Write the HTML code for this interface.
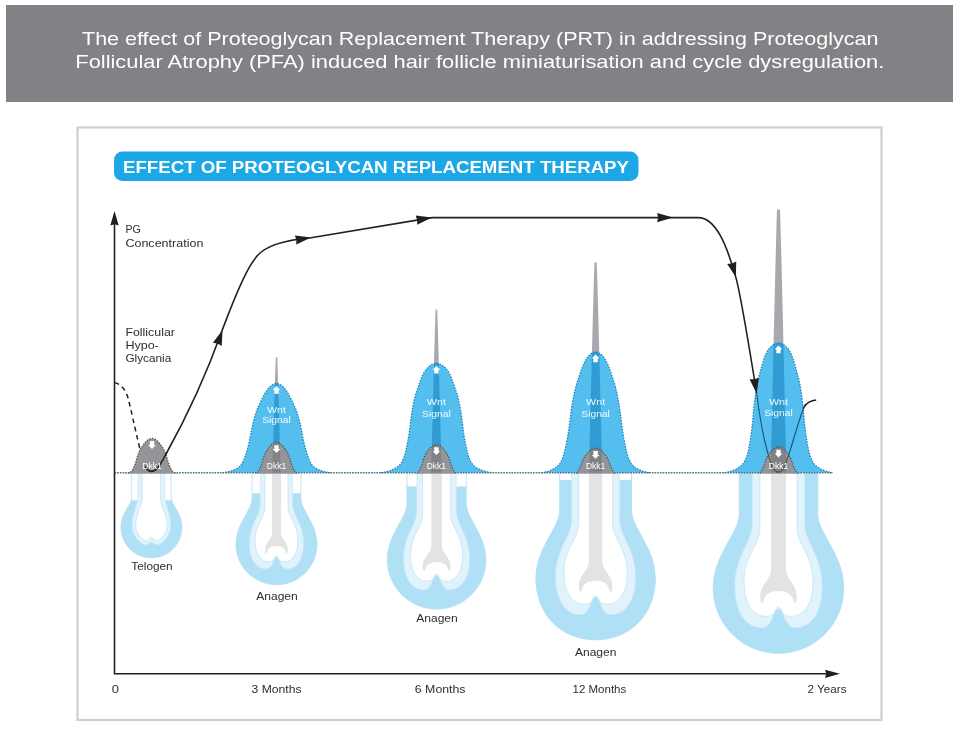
<!DOCTYPE html>
<html lang="en">
<head>
<meta charset="utf-8">
<title>Effect of Proteoglycan Replacement Therapy</title>
<style>
html,body{margin:0;padding:0;background:#fff;}
body{width:959px;height:739px;position:relative;overflow:hidden;font-family:"Liberation Sans",Arial,sans-serif;}
svg text{white-space:pre;}
</style>
</head>
<body>
<svg width="959" height="739" viewBox="0 0 959 739" style="position:absolute;left:0;top:0;display:block">
<rect x="0" y="0" width="959" height="739" fill="#fff"/>
<rect x="6" y="5" width="947" height="97" fill="#808285"/>
<g font-family="'Liberation Sans', Arial, sans-serif" font-size="18.1" fill="#fff">
<text x="82" y="44.7" textLength="796.5" lengthAdjust="spacingAndGlyphs">The effect of Proteoglycan Replacement Therapy (PRT) in addressing Proteoglycan</text>
<text x="75.3" y="67.6" textLength="809" lengthAdjust="spacingAndGlyphs">Follicular Atrophy (PFA) induced hair follicle miniaturisation and cycle dysregulation.</text>
</g>
<rect x="77.5" y="127.5" width="804" height="592.5" fill="#fff" stroke="#cdcdce" stroke-width="2.1"/>
<rect x="114" y="151.5" width="524.5" height="29.5" rx="8.5" ry="8.5" fill="#1ca7e6"/>
<text x="123" y="172.6" font-family="'Liberation Sans', Arial, sans-serif" font-weight="bold" font-size="16" fill="#fff" textLength="506" lengthAdjust="spacingAndGlyphs">EFFECT OF PROTEOGLYCAN REPLACEMENT THERAPY</text>
<g>
<clipPath id="cl1"><rect x="116" y="500.2" width="70.8" height="400"/></clipPath>
<path d="M131.7,472.6 L131.7,497.5 C131.7,504.98 121,512.45 121,527.4 C121,544.19 134.61,557.8 151.4,557.8 C168.19,557.8 181.8,544.19 181.8,527.4 C181.8,512.45 171.1,504.98 171.1,497.5 L171.1,472.6 Z" fill="#fff" stroke="#bfe3f5" stroke-width="1"/>
<path d="M131.7,472.6 L131.7,497.5 C131.7,504.98 121,512.45 121,527.4 C121,544.19 134.61,557.8 151.4,557.8 C168.19,557.8 181.8,544.19 181.8,527.4 C181.8,512.45 171.1,504.98 171.1,497.5 L171.1,472.6 Z" fill="#b0e0f6" clip-path="url(#cl1)"/>
<path d="M138,472.6 L138,497 C138,504 132.2,512 132.2,527 C132.2,534.5 139.9,544.8 145.8,544.8 C148.1,544.8 149.2,542.2 151.4,542.2 C153.6,542.2 154.7,544.8 157,544.8 C162.9,544.8 170.6,534.5 170.6,527 C170.6,512 164.8,504 164.8,497 L164.8,472.6 Z" fill="#e0f3fc" stroke="#cfeaf8" stroke-width="0.8"/>
<path d="M142.2,472.6 L142.2,499 C142.2,506 135.6,514 135.6,526 C135.6,531.5 141.4,540.8 145.8,540.8 C148,540.8 149.2,537.9 151.4,537.9 C153.6,537.9 154.8,540.8 157,540.8 C161.4,540.8 167.2,531.5 167.2,526 C167.2,514 160.6,506 160.6,499 L160.6,472.6 Z" fill="#fff" stroke="#c3e4f5" stroke-width="0.8"/>
<clipPath id="cl2"><rect x="230.99" y="493.3" width="91.01" height="400"/></clipPath>
<path d="M252.12,472.6 L252.12,498.65 C252.12,510.04 235.99,523.69 235.99,544.18 C235.99,566.55 254.13,584.69 276.5,584.69 C298.87,584.69 317.01,566.55 317.01,544.18 C317.01,523.69 300.88,510.04 300.88,498.65 L300.88,472.6 Z" fill="#fff" stroke="#bfe3f5" stroke-width="1"/>
<path d="M252.12,472.6 L252.12,498.65 C252.12,510.04 235.99,523.69 235.99,544.18 C235.99,566.55 254.13,584.69 276.5,584.69 C298.87,584.69 317.01,566.55 317.01,544.18 C317.01,523.69 300.88,510.04 300.88,498.65 L300.88,472.6 Z" fill="#b0e0f6" clip-path="url(#cl2)"/>
<path d="M260.37,472.6 L260.37,504.24 C260.37,515.96 249.45,523.77 249.45,543.31 C249.45,558.61 255.72,568.81 265.95,568.81 C269.97,568.81 270.73,566.48 272.65,562.98 C273.42,559.48 274.96,557.15 276.5,557.15 C278.04,557.15 279.58,559.48 280.35,562.98 C282.27,566.48 283.03,568.81 287.05,568.81 C297.28,568.81 303.55,558.61 303.55,543.31 C303.55,523.77 292.63,515.96 292.63,504.24 L292.63,472.6 Z" fill="#e0f3fc" stroke="#cfeaf8" stroke-width="0.8"/>
<path d="M264.96,472.6 L264.96,507.34 C264.96,517.29 255.1,523.93 255.1,540.52 C255.1,553.29 260.26,561.8 268.68,561.8 C272.03,561.8 273.15,560.68 274.27,559.01 C274.71,557.33 275.61,556.22 276.5,556.22 C277.39,556.22 278.29,557.33 278.73,559.01 C279.85,560.68 280.97,561.8 284.32,561.8 C292.74,561.8 297.9,553.29 297.9,540.52 C297.9,523.93 288.04,517.29 288.04,507.34 L288.04,472.6 Z" fill="#fff" stroke="#c3e4f5" stroke-width="0.8"/>
<path d="M272.1,472.6 L272.1,532.15 C272.1,539.31 265.15,542.04 265.15,549.21 C265.15,552.12 265.52,553.36 266.2,553.36 C266.89,553.36 267.26,552.26 267.51,551.15 C268.44,547.83 271.55,545.98 276.5,545.98 C281.45,545.98 284.56,547.83 285.49,551.15 C285.74,552.26 286.11,553.36 286.8,553.36 C287.48,553.36 287.85,552.12 287.85,549.21 C287.85,542.04 280.9,539.31 280.9,532.15 L280.9,472.6 Z" fill="#e3e3e4"/>
<clipPath id="cl3"><rect x="382.3" y="486.5" width="108.6" height="400"/></clipPath>
<path d="M406.93,472.6 L406.93,504.31 C406.93,518.16 387.3,534.79 387.3,559.73 C387.3,586.96 409.37,609.03 436.6,609.03 C463.83,609.03 485.9,586.96 485.9,559.73 C485.9,534.79 466.27,518.16 466.27,504.31 L466.27,472.6 Z" fill="#fff" stroke="#bfe3f5" stroke-width="1"/>
<path d="M406.93,472.6 L406.93,504.31 C406.93,518.16 387.3,534.79 387.3,559.73 C387.3,586.96 409.37,609.03 436.6,609.03 C463.83,609.03 485.9,586.96 485.9,559.73 C485.9,534.79 466.27,518.16 466.27,504.31 L466.27,472.6 Z" fill="#b0e0f6" clip-path="url(#cl3)"/>
<path d="M416.97,472.6 L416.97,511.11 C416.97,525.37 403.68,534.89 403.68,558.67 C403.68,577.29 411.31,589.7 423.77,589.7 C428.66,589.7 429.58,586.86 431.92,582.6 C432.86,578.35 434.73,575.51 436.6,575.51 C438.47,575.51 440.34,578.35 441.28,582.6 C443.62,586.86 444.54,589.7 449.44,589.7 C461.89,589.7 469.52,577.29 469.52,558.67 C469.52,534.89 456.23,525.37 456.23,511.11 L456.23,472.6 Z" fill="#e0f3fc" stroke="#cfeaf8" stroke-width="0.8"/>
<path d="M422.56,472.6 L422.56,514.88 C422.56,527 410.55,535.08 410.55,555.27 C410.55,570.81 416.84,581.17 427.09,581.17 C431.16,581.17 432.52,579.81 433.88,577.77 C434.43,575.73 435.51,574.37 436.6,574.37 C437.69,574.37 438.77,575.73 439.32,577.77 C440.68,579.81 442.04,581.17 446.11,581.17 C456.36,581.17 462.65,570.81 462.65,555.27 C462.65,535.08 450.64,527 450.64,514.88 L450.64,472.6 Z" fill="#fff" stroke="#c3e4f5" stroke-width="0.8"/>
<path d="M431.4,472.6 L431.4,545.08 C431.4,553.8 422.78,557.12 422.78,565.84 C422.78,569.38 423.24,570.9 424.07,570.9 C424.9,570.9 425.35,569.55 425.65,568.21 C426.79,564.16 430.58,561.92 436.6,561.92 C442.62,561.92 446.42,564.16 447.55,568.21 C447.85,569.55 448.3,570.9 449.13,570.9 C449.96,570.9 450.42,569.38 450.42,565.84 C450.42,557.12 441.8,553.8 441.8,545.08 L441.8,472.6 Z" fill="#e3e3e4"/>
<clipPath id="cl4"><rect x="530.85" y="480" width="129.5" height="400"/></clipPath>
<path d="M559.64,472.6 L559.64,511.03 C559.64,527.82 535.85,547.97 535.85,578.19 C535.85,614.22 560.65,639.77 595.6,639.77 C630.55,639.77 655.35,614.22 655.35,578.19 C655.35,547.97 631.56,527.82 631.56,511.03 L631.56,472.6 Z" fill="#fff" stroke="#bfe3f5" stroke-width="1"/>
<path d="M559.64,472.6 L559.64,511.03 C559.64,527.82 535.85,547.97 535.85,578.19 C535.85,614.22 560.65,639.77 595.6,639.77 C630.55,639.77 655.35,614.22 655.35,578.19 C655.35,547.97 631.56,527.82 631.56,511.03 L631.56,472.6 Z" fill="#b0e0f6" clip-path="url(#cl4)"/>
<path d="M571.81,472.6 L571.81,519.26 C571.81,536.56 555.71,548.09 555.71,576.91 C555.71,599.47 564.95,614.52 580.05,614.52 C585.97,614.52 587.09,611.08 589.93,605.92 C591.06,600.75 593.33,597.31 595.6,597.31 C597.87,597.31 600.14,600.75 601.27,605.92 C604.11,611.08 605.23,614.52 611.15,614.52 C626.25,614.52 635.49,599.47 635.49,576.91 C635.49,548.09 619.39,536.56 619.39,519.26 L619.39,472.6 Z" fill="#e0f3fc" stroke="#cfeaf8" stroke-width="0.8"/>
<path d="M578.58,472.6 L578.58,523.84 C578.58,538.53 564.03,548.32 564.03,572.79 C564.03,591.62 571.65,604.18 584.07,604.18 C589.01,604.18 590.66,602.53 592.31,600.06 C592.96,597.59 594.28,595.94 595.6,595.94 C596.92,595.94 598.24,597.59 598.89,600.06 C600.54,602.53 602.19,604.18 607.13,604.18 C619.55,604.18 627.17,591.62 627.17,572.79 C627.17,548.32 612.62,538.53 612.62,523.84 L612.62,472.6 Z" fill="#fff" stroke="#c3e4f5" stroke-width="0.8"/>
<path d="M588.95,472.6 L588.95,560.44 C588.95,571.01 578.86,575.03 578.86,585.6 C578.86,589.89 579.4,591.73 580.41,591.73 C581.42,591.73 581.97,590.1 582.33,588.47 C583.71,583.57 588.3,580.84 595.6,580.84 C602.9,580.84 607.5,583.57 608.87,588.47 C609.23,590.1 609.78,591.73 610.79,591.73 C611.8,591.73 612.34,589.89 612.34,585.6 C612.34,575.03 602.25,571.01 602.25,560.44 L602.25,472.6 Z" fill="#e3e3e4"/>
<clipPath id="cl5"><rect x="708.2" y="472" width="140.6" height="400"/></clipPath>
<path d="M739.2,472.6 L739.2,514.6 C739.2,532.95 713.2,554.97 713.2,588 C713.2,624.07 742.43,653.3 778.5,653.3 C814.57,653.3 843.8,624.07 843.8,588 C843.8,554.97 817.8,532.95 817.8,514.6 L817.8,472.6 Z" fill="#fff" stroke="#bfe3f5" stroke-width="1"/>
<path d="M739.2,472.6 L739.2,514.6 C739.2,532.95 713.2,554.97 713.2,588 C713.2,624.07 742.43,653.3 778.5,653.3 C814.57,653.3 843.8,624.07 843.8,588 C843.8,554.97 817.8,532.95 817.8,514.6 L817.8,472.6 Z" fill="#b0e0f6" clip-path="url(#cl5)"/>
<path d="M752.5,472.6 L752.5,523.6 C752.5,542.5 734.9,555.1 734.9,586.6 C734.9,611.26 745.01,627.7 761.5,627.7 C767.98,627.7 769.2,623.94 772.3,618.3 C773.54,612.66 776.02,608.9 778.5,608.9 C780.98,608.9 783.46,612.66 784.7,618.3 C787.8,623.94 789.02,627.7 795.5,627.7 C811.99,627.7 822.1,611.26 822.1,586.6 C822.1,555.1 804.5,542.5 804.5,523.6 L804.5,472.6 Z" fill="#e0f3fc" stroke="#cfeaf8" stroke-width="0.8"/>
<path d="M759.9,472.6 L759.9,528.6 C759.9,544.65 744,555.35 744,582.1 C744,602.68 752.32,616.4 765.9,616.4 C771.3,616.4 773.1,614.6 774.9,611.9 C775.62,609.2 777.06,607.4 778.5,607.4 C779.94,607.4 781.38,609.2 782.1,611.9 C783.9,614.6 785.7,616.4 791.1,616.4 C804.68,616.4 813,602.68 813,582.1 C813,555.35 797.1,544.65 797.1,528.6 L797.1,472.6 Z" fill="#fff" stroke="#c3e4f5" stroke-width="0.8"/>
<path d="M771.05,472.6 L771.05,568.6 C771.05,580.15 760.2,584.55 760.2,596.1 C760.2,600.79 760.8,602.8 761.9,602.8 C763,602.8 763.6,601.01 764,599.23 C765.5,593.88 770.52,590.9 778.5,590.9 C786.48,590.9 791.5,593.88 793,599.23 C793.4,601.01 794,602.8 795.1,602.8 C796.2,602.8 796.8,600.79 796.8,596.1 C796.8,584.55 785.95,580.15 785.95,568.6 L785.95,472.6 Z" fill="#e3e3e4"/>
</g>
<path d="M114.7,382.6 C121,384.3 126,389.5 128.6,400 C131,410 134.5,426 139.7,448.1 C141.5,455.5 143,461.5 145.2,466.5" fill="none" stroke="#231f20" stroke-width="1.5" stroke-dasharray="4.7 3.8"/>
<g>
<path d="M275.8,357 L275.61,361.82 L275.44,366.63 L275.28,371.45 L275.12,376.27 L274.97,381.08 L274.82,385.9 L274.68,390.72 L274.54,395.53 L274.39,400.35 L274.25,405.17 L274.12,409.98 L273.98,414.8 L273.84,419.62 L273.71,424.43 L273.57,429.25 L273.44,434.07 L273.31,438.88 L273.18,443.7 L273.04,448.52 L272.91,453.33 L272.79,458.15 L272.66,462.97 L272.53,467.78 L272.4,472.6 L280.6,472.6 L280.47,467.78 L280.34,462.97 L280.21,458.15 L280.09,453.33 L279.96,448.52 L279.82,443.7 L279.69,438.88 L279.56,434.07 L279.43,429.25 L279.29,424.43 L279.16,419.62 L279.02,414.8 L278.88,409.98 L278.75,405.17 L278.61,400.35 L278.46,395.53 L278.32,390.72 L278.18,385.9 L278.03,381.08 L277.88,376.27 L277.72,371.45 L277.56,366.63 L277.39,361.82 L277.2,357 Z" fill="#a7a9ac"/>
<clipPath id="bc0"><path d="M222.5,472.6 L223.18,472.54 L223.87,472.47 L224.55,472.38 L225.23,472.28 L225.92,472.17 L226.6,472.05 L227.28,471.93 L227.97,471.79 L228.65,471.64 L229.34,471.46 L230.02,471.27 L230.7,471.07 L231.39,470.84 L232.07,470.61 L232.75,470.37 L233.44,470.1 L234.12,469.81 L234.8,469.49 L235.49,469.15 L236.17,468.78 L236.85,468.38 L237.54,467.95 L238.22,467.48 L238.91,466.95 L239.59,466.37 L240.27,465.7 L240.96,464.93 L241.64,463.96 L242.32,462.83 L243.01,461.55 L243.69,460.15 L244.37,458.45 L245.06,456.52 L245.74,454.48 L246.42,452.28 L247.11,449.93 L247.79,447.44 L248.47,444.8 L249.16,441.98 L249.84,438.9 L250.53,435.39 L251.21,431.69 L251.89,428.13 L252.58,425 L253.26,422.19 L253.94,419.52 L254.63,417 L255.31,414.65 L255.99,412.5 L256.68,410.57 L257.36,408.84 L258.04,407.27 L258.73,405.79 L259.41,404.38 L260.09,402.98 L260.78,401.54 L261.46,400.09 L262.15,398.64 L262.83,397.23 L263.51,395.88 L264.2,394.63 L264.88,393.47 L265.56,392.36 L266.25,391.29 L266.93,390.29 L267.61,389.37 L268.3,388.53 L268.98,387.78 L269.66,387.05 L270.35,386.36 L271.03,385.74 L271.72,385.21 L272.4,384.79 L273.08,384.46 L273.77,384.15 L274.45,383.87 L275.13,383.65 L275.82,383.48 L276.5,383.4 L277.18,383.48 L277.87,383.65 L278.55,383.87 L279.23,384.15 L279.92,384.46 L280.6,384.79 L281.28,385.21 L281.97,385.74 L282.65,386.36 L283.34,387.05 L284.02,387.78 L284.7,388.53 L285.39,389.37 L286.07,390.29 L286.75,391.29 L287.44,392.36 L288.12,393.47 L288.8,394.63 L289.49,395.88 L290.17,397.23 L290.85,398.64 L291.54,400.09 L292.22,401.54 L292.91,402.98 L293.59,404.38 L294.27,405.79 L294.96,407.27 L295.64,408.84 L296.32,410.57 L297.01,412.5 L297.69,414.65 L298.37,417 L299.06,419.52 L299.74,422.19 L300.42,425 L301.11,428.13 L301.79,431.69 L302.47,435.39 L303.16,438.9 L303.84,441.98 L304.53,444.8 L305.21,447.44 L305.89,449.93 L306.58,452.28 L307.26,454.48 L307.94,456.52 L308.63,458.45 L309.31,460.15 L309.99,461.55 L310.68,462.83 L311.36,463.96 L312.04,464.93 L312.73,465.7 L313.41,466.37 L314.09,466.95 L314.78,467.48 L315.46,467.95 L316.15,468.38 L316.83,468.78 L317.51,469.15 L318.2,469.49 L318.88,469.81 L319.56,470.1 L320.25,470.37 L320.93,470.61 L321.61,470.84 L322.3,471.07 L322.98,471.27 L323.66,471.46 L324.35,471.64 L325.03,471.79 L325.72,471.93 L326.4,472.05 L327.08,472.17 L327.77,472.28 L328.45,472.38 L329.13,472.47 L329.82,472.54 L330.5,472.6 Z"/></clipPath>
<path d="M222.5,472.6 L223.18,472.54 L223.87,472.47 L224.55,472.38 L225.23,472.28 L225.92,472.17 L226.6,472.05 L227.28,471.93 L227.97,471.79 L228.65,471.64 L229.34,471.46 L230.02,471.27 L230.7,471.07 L231.39,470.84 L232.07,470.61 L232.75,470.37 L233.44,470.1 L234.12,469.81 L234.8,469.49 L235.49,469.15 L236.17,468.78 L236.85,468.38 L237.54,467.95 L238.22,467.48 L238.91,466.95 L239.59,466.37 L240.27,465.7 L240.96,464.93 L241.64,463.96 L242.32,462.83 L243.01,461.55 L243.69,460.15 L244.37,458.45 L245.06,456.52 L245.74,454.48 L246.42,452.28 L247.11,449.93 L247.79,447.44 L248.47,444.8 L249.16,441.98 L249.84,438.9 L250.53,435.39 L251.21,431.69 L251.89,428.13 L252.58,425 L253.26,422.19 L253.94,419.52 L254.63,417 L255.31,414.65 L255.99,412.5 L256.68,410.57 L257.36,408.84 L258.04,407.27 L258.73,405.79 L259.41,404.38 L260.09,402.98 L260.78,401.54 L261.46,400.09 L262.15,398.64 L262.83,397.23 L263.51,395.88 L264.2,394.63 L264.88,393.47 L265.56,392.36 L266.25,391.29 L266.93,390.29 L267.61,389.37 L268.3,388.53 L268.98,387.78 L269.66,387.05 L270.35,386.36 L271.03,385.74 L271.72,385.21 L272.4,384.79 L273.08,384.46 L273.77,384.15 L274.45,383.87 L275.13,383.65 L275.82,383.48 L276.5,383.4 L277.18,383.48 L277.87,383.65 L278.55,383.87 L279.23,384.15 L279.92,384.46 L280.6,384.79 L281.28,385.21 L281.97,385.74 L282.65,386.36 L283.34,387.05 L284.02,387.78 L284.7,388.53 L285.39,389.37 L286.07,390.29 L286.75,391.29 L287.44,392.36 L288.12,393.47 L288.8,394.63 L289.49,395.88 L290.17,397.23 L290.85,398.64 L291.54,400.09 L292.22,401.54 L292.91,402.98 L293.59,404.38 L294.27,405.79 L294.96,407.27 L295.64,408.84 L296.32,410.57 L297.01,412.5 L297.69,414.65 L298.37,417 L299.06,419.52 L299.74,422.19 L300.42,425 L301.11,428.13 L301.79,431.69 L302.47,435.39 L303.16,438.9 L303.84,441.98 L304.53,444.8 L305.21,447.44 L305.89,449.93 L306.58,452.28 L307.26,454.48 L307.94,456.52 L308.63,458.45 L309.31,460.15 L309.99,461.55 L310.68,462.83 L311.36,463.96 L312.04,464.93 L312.73,465.7 L313.41,466.37 L314.09,466.95 L314.78,467.48 L315.46,467.95 L316.15,468.38 L316.83,468.78 L317.51,469.15 L318.2,469.49 L318.88,469.81 L319.56,470.1 L320.25,470.37 L320.93,470.61 L321.61,470.84 L322.3,471.07 L322.98,471.27 L323.66,471.46 L324.35,471.64 L325.03,471.79 L325.72,471.93 L326.4,472.05 L327.08,472.17 L327.77,472.28 L328.45,472.38 L329.13,472.47 L329.82,472.54 L330.5,472.6 Z" fill="#54bfee"/>
<g clip-path="url(#bc0)"><path d="M275.8,357 L275.61,361.82 L275.44,366.63 L275.28,371.45 L275.12,376.27 L274.97,381.08 L274.82,385.9 L274.68,390.72 L274.54,395.53 L274.39,400.35 L274.25,405.17 L274.12,409.98 L273.98,414.8 L273.84,419.62 L273.71,424.43 L273.57,429.25 L273.44,434.07 L273.31,438.88 L273.18,443.7 L273.04,448.52 L272.91,453.33 L272.79,458.15 L272.66,462.97 L272.53,467.78 L272.4,472.6 L280.6,472.6 L280.47,467.78 L280.34,462.97 L280.21,458.15 L280.09,453.33 L279.96,448.52 L279.82,443.7 L279.69,438.88 L279.56,434.07 L279.43,429.25 L279.29,424.43 L279.16,419.62 L279.02,414.8 L278.88,409.98 L278.75,405.17 L278.61,400.35 L278.46,395.53 L278.32,390.72 L278.18,385.9 L278.03,381.08 L277.88,376.27 L277.72,371.45 L277.56,366.63 L277.39,361.82 L277.2,357 Z" fill="#319bd3"/></g>
<path d="M222.5,472.6 L223.18,472.54 L223.87,472.47 L224.55,472.38 L225.23,472.28 L225.92,472.17 L226.6,472.05 L227.28,471.93 L227.97,471.79 L228.65,471.64 L229.34,471.46 L230.02,471.27 L230.7,471.07 L231.39,470.84 L232.07,470.61 L232.75,470.37 L233.44,470.1 L234.12,469.81 L234.8,469.49 L235.49,469.15 L236.17,468.78 L236.85,468.38 L237.54,467.95 L238.22,467.48 L238.91,466.95 L239.59,466.37 L240.27,465.7 L240.96,464.93 L241.64,463.96 L242.32,462.83 L243.01,461.55 L243.69,460.15 L244.37,458.45 L245.06,456.52 L245.74,454.48 L246.42,452.28 L247.11,449.93 L247.79,447.44 L248.47,444.8 L249.16,441.98 L249.84,438.9 L250.53,435.39 L251.21,431.69 L251.89,428.13 L252.58,425 L253.26,422.19 L253.94,419.52 L254.63,417 L255.31,414.65 L255.99,412.5 L256.68,410.57 L257.36,408.84 L258.04,407.27 L258.73,405.79 L259.41,404.38 L260.09,402.98 L260.78,401.54 L261.46,400.09 L262.15,398.64 L262.83,397.23 L263.51,395.88 L264.2,394.63 L264.88,393.47 L265.56,392.36 L266.25,391.29 L266.93,390.29 L267.61,389.37 L268.3,388.53 L268.98,387.78 L269.66,387.05 L270.35,386.36 L271.03,385.74 L271.72,385.21 L272.4,384.79 L273.08,384.46 L273.77,384.15 L274.45,383.87 L275.13,383.65 L275.82,383.48 L276.5,383.4 L277.18,383.48 L277.87,383.65 L278.55,383.87 L279.23,384.15 L279.92,384.46 L280.6,384.79 L281.28,385.21 L281.97,385.74 L282.65,386.36 L283.34,387.05 L284.02,387.78 L284.7,388.53 L285.39,389.37 L286.07,390.29 L286.75,391.29 L287.44,392.36 L288.12,393.47 L288.8,394.63 L289.49,395.88 L290.17,397.23 L290.85,398.64 L291.54,400.09 L292.22,401.54 L292.91,402.98 L293.59,404.38 L294.27,405.79 L294.96,407.27 L295.64,408.84 L296.32,410.57 L297.01,412.5 L297.69,414.65 L298.37,417 L299.06,419.52 L299.74,422.19 L300.42,425 L301.11,428.13 L301.79,431.69 L302.47,435.39 L303.16,438.9 L303.84,441.98 L304.53,444.8 L305.21,447.44 L305.89,449.93 L306.58,452.28 L307.26,454.48 L307.94,456.52 L308.63,458.45 L309.31,460.15 L309.99,461.55 L310.68,462.83 L311.36,463.96 L312.04,464.93 L312.73,465.7 L313.41,466.37 L314.09,466.95 L314.78,467.48 L315.46,467.95 L316.15,468.38 L316.83,468.78 L317.51,469.15 L318.2,469.49 L318.88,469.81 L319.56,470.1 L320.25,470.37 L320.93,470.61 L321.61,470.84 L322.3,471.07 L322.98,471.27 L323.66,471.46 L324.35,471.64 L325.03,471.79 L325.72,471.93 L326.4,472.05 L327.08,472.17 L327.77,472.28 L328.45,472.38 L329.13,472.47 L329.82,472.54 L330.5,472.6" fill="none" stroke="#1b82bd" stroke-width="1.25" stroke-dasharray="1.5 1.4"/>
<path d="M435.6,309.5 L435.35,316.3 L435.13,323.09 L434.92,329.89 L434.72,336.68 L434.53,343.48 L434.34,350.27 L434.15,357.07 L433.96,363.87 L433.78,370.66 L433.6,377.46 L433.42,384.25 L433.24,391.05 L433.07,397.85 L432.89,404.64 L432.72,411.44 L432.55,418.23 L432.37,425.03 L432.2,431.83 L432.03,438.62 L431.87,445.42 L431.7,452.21 L431.53,459.01 L431.37,465.8 L431.2,472.6 L441.6,472.6 L441.43,465.8 L441.27,459.01 L441.1,452.21 L440.93,445.42 L440.77,438.62 L440.6,431.83 L440.43,425.03 L440.25,418.23 L440.08,411.44 L439.91,404.64 L439.73,397.85 L439.56,391.05 L439.38,384.25 L439.2,377.46 L439.02,370.66 L438.84,363.87 L438.65,357.07 L438.46,350.27 L438.27,343.48 L438.08,336.68 L437.88,329.89 L437.67,323.09 L437.45,316.3 L437.2,309.5 Z" fill="#a7a9ac"/>
<clipPath id="bc1"><path d="M380.78,472.6 L381.5,472.53 L382.22,472.44 L382.95,472.33 L383.68,472.21 L384.42,472.07 L385.15,471.93 L385.89,471.77 L386.63,471.61 L387.38,471.42 L388.13,471.21 L388.88,470.97 L389.64,470.72 L390.41,470.45 L391.17,470.16 L391.94,469.86 L392.72,469.53 L393.5,469.18 L394.29,468.79 L395.09,468.37 L395.89,467.91 L396.7,467.42 L397.47,466.89 L398.18,466.32 L398.9,465.67 L399.61,464.95 L400.33,464.14 L401.04,463.19 L401.76,462.01 L402.48,460.61 L403.21,459.05 L403.94,457.33 L404.67,455.25 L405.29,452.88 L405.9,450.37 L406.5,447.68 L407.09,444.79 L407.68,441.74 L408.26,438.51 L408.84,435.04 L409.4,431.26 L409.94,426.96 L410.46,422.43 L410.99,418.06 L411.55,414.23 L412.11,410.78 L412.69,407.5 L413.27,404.41 L413.86,401.53 L414.46,398.9 L415.05,396.53 L415.65,394.4 L416.26,392.47 L416.88,390.67 L417.5,388.93 L418.13,387.21 L418.75,385.45 L419.37,383.66 L419.98,381.89 L420.61,380.16 L421.23,378.51 L421.86,376.97 L422.5,375.55 L423.14,374.19 L423.86,372.88 L424.58,371.65 L425.3,370.52 L426.02,369.5 L426.76,368.57 L427.69,367.67 L428.61,366.83 L429.5,366.07 L430.37,365.42 L431.2,364.9 L432.12,364.5 L433.05,364.12 L433.95,363.78 L434.82,363.5 L435.64,363.3 L436.4,363.2 L437.16,363.3 L437.98,363.5 L438.85,363.78 L439.75,364.12 L440.68,364.5 L441.6,364.9 L442.43,365.42 L443.3,366.07 L444.19,366.83 L445.11,367.67 L446.04,368.57 L446.78,369.5 L447.5,370.52 L448.22,371.65 L448.94,372.88 L449.66,374.19 L450.3,375.55 L450.94,376.97 L451.57,378.51 L452.19,380.16 L452.82,381.89 L453.43,383.66 L454.05,385.45 L454.67,387.21 L455.3,388.93 L455.92,390.67 L456.54,392.47 L457.15,394.4 L457.75,396.53 L458.34,398.9 L458.94,401.53 L459.53,404.41 L460.11,407.5 L460.69,410.78 L461.25,414.23 L461.81,418.06 L462.34,422.43 L462.86,426.96 L463.4,431.26 L463.96,435.04 L464.54,438.51 L465.12,441.74 L465.71,444.79 L466.3,447.68 L466.9,450.37 L467.51,452.88 L468.13,455.25 L468.86,457.33 L469.59,459.05 L470.32,460.61 L471.04,462.01 L471.76,463.19 L472.47,464.14 L473.19,464.95 L473.9,465.67 L474.62,466.32 L475.33,466.89 L476.1,467.42 L476.91,467.91 L477.71,468.37 L478.51,468.79 L479.3,469.18 L480.08,469.53 L480.86,469.86 L481.63,470.16 L482.39,470.45 L483.16,470.72 L483.92,470.97 L484.67,471.21 L485.42,471.42 L486.17,471.61 L486.91,471.77 L487.65,471.93 L488.38,472.07 L489.12,472.21 L489.85,472.33 L490.58,472.44 L491.3,472.53 L492.02,472.6 Z"/></clipPath>
<path d="M380.78,472.6 L381.5,472.53 L382.22,472.44 L382.95,472.33 L383.68,472.21 L384.42,472.07 L385.15,471.93 L385.89,471.77 L386.63,471.61 L387.38,471.42 L388.13,471.21 L388.88,470.97 L389.64,470.72 L390.41,470.45 L391.17,470.16 L391.94,469.86 L392.72,469.53 L393.5,469.18 L394.29,468.79 L395.09,468.37 L395.89,467.91 L396.7,467.42 L397.47,466.89 L398.18,466.32 L398.9,465.67 L399.61,464.95 L400.33,464.14 L401.04,463.19 L401.76,462.01 L402.48,460.61 L403.21,459.05 L403.94,457.33 L404.67,455.25 L405.29,452.88 L405.9,450.37 L406.5,447.68 L407.09,444.79 L407.68,441.74 L408.26,438.51 L408.84,435.04 L409.4,431.26 L409.94,426.96 L410.46,422.43 L410.99,418.06 L411.55,414.23 L412.11,410.78 L412.69,407.5 L413.27,404.41 L413.86,401.53 L414.46,398.9 L415.05,396.53 L415.65,394.4 L416.26,392.47 L416.88,390.67 L417.5,388.93 L418.13,387.21 L418.75,385.45 L419.37,383.66 L419.98,381.89 L420.61,380.16 L421.23,378.51 L421.86,376.97 L422.5,375.55 L423.14,374.19 L423.86,372.88 L424.58,371.65 L425.3,370.52 L426.02,369.5 L426.76,368.57 L427.69,367.67 L428.61,366.83 L429.5,366.07 L430.37,365.42 L431.2,364.9 L432.12,364.5 L433.05,364.12 L433.95,363.78 L434.82,363.5 L435.64,363.3 L436.4,363.2 L437.16,363.3 L437.98,363.5 L438.85,363.78 L439.75,364.12 L440.68,364.5 L441.6,364.9 L442.43,365.42 L443.3,366.07 L444.19,366.83 L445.11,367.67 L446.04,368.57 L446.78,369.5 L447.5,370.52 L448.22,371.65 L448.94,372.88 L449.66,374.19 L450.3,375.55 L450.94,376.97 L451.57,378.51 L452.19,380.16 L452.82,381.89 L453.43,383.66 L454.05,385.45 L454.67,387.21 L455.3,388.93 L455.92,390.67 L456.54,392.47 L457.15,394.4 L457.75,396.53 L458.34,398.9 L458.94,401.53 L459.53,404.41 L460.11,407.5 L460.69,410.78 L461.25,414.23 L461.81,418.06 L462.34,422.43 L462.86,426.96 L463.4,431.26 L463.96,435.04 L464.54,438.51 L465.12,441.74 L465.71,444.79 L466.3,447.68 L466.9,450.37 L467.51,452.88 L468.13,455.25 L468.86,457.33 L469.59,459.05 L470.32,460.61 L471.04,462.01 L471.76,463.19 L472.47,464.14 L473.19,464.95 L473.9,465.67 L474.62,466.32 L475.33,466.89 L476.1,467.42 L476.91,467.91 L477.71,468.37 L478.51,468.79 L479.3,469.18 L480.08,469.53 L480.86,469.86 L481.63,470.16 L482.39,470.45 L483.16,470.72 L483.92,470.97 L484.67,471.21 L485.42,471.42 L486.17,471.61 L486.91,471.77 L487.65,471.93 L488.38,472.07 L489.12,472.21 L489.85,472.33 L490.58,472.44 L491.3,472.53 L492.02,472.6 Z" fill="#54bfee"/>
<g clip-path="url(#bc1)"><path d="M435.6,309.5 L435.35,316.3 L435.13,323.09 L434.92,329.89 L434.72,336.68 L434.53,343.48 L434.34,350.27 L434.15,357.07 L433.96,363.87 L433.78,370.66 L433.6,377.46 L433.42,384.25 L433.24,391.05 L433.07,397.85 L432.89,404.64 L432.72,411.44 L432.55,418.23 L432.37,425.03 L432.2,431.83 L432.03,438.62 L431.87,445.42 L431.7,452.21 L431.53,459.01 L431.37,465.8 L431.2,472.6 L441.6,472.6 L441.43,465.8 L441.27,459.01 L441.1,452.21 L440.93,445.42 L440.77,438.62 L440.6,431.83 L440.43,425.03 L440.25,418.23 L440.08,411.44 L439.91,404.64 L439.73,397.85 L439.56,391.05 L439.38,384.25 L439.2,377.46 L439.02,370.66 L438.84,363.87 L438.65,357.07 L438.46,350.27 L438.27,343.48 L438.08,336.68 L437.88,329.89 L437.67,323.09 L437.45,316.3 L437.2,309.5 Z" fill="#319bd3"/></g>
<path d="M380.78,472.6 L381.5,472.53 L382.22,472.44 L382.95,472.33 L383.68,472.21 L384.42,472.07 L385.15,471.93 L385.89,471.77 L386.63,471.61 L387.38,471.42 L388.13,471.21 L388.88,470.97 L389.64,470.72 L390.41,470.45 L391.17,470.16 L391.94,469.86 L392.72,469.53 L393.5,469.18 L394.29,468.79 L395.09,468.37 L395.89,467.91 L396.7,467.42 L397.47,466.89 L398.18,466.32 L398.9,465.67 L399.61,464.95 L400.33,464.14 L401.04,463.19 L401.76,462.01 L402.48,460.61 L403.21,459.05 L403.94,457.33 L404.67,455.25 L405.29,452.88 L405.9,450.37 L406.5,447.68 L407.09,444.79 L407.68,441.74 L408.26,438.51 L408.84,435.04 L409.4,431.26 L409.94,426.96 L410.46,422.43 L410.99,418.06 L411.55,414.23 L412.11,410.78 L412.69,407.5 L413.27,404.41 L413.86,401.53 L414.46,398.9 L415.05,396.53 L415.65,394.4 L416.26,392.47 L416.88,390.67 L417.5,388.93 L418.13,387.21 L418.75,385.45 L419.37,383.66 L419.98,381.89 L420.61,380.16 L421.23,378.51 L421.86,376.97 L422.5,375.55 L423.14,374.19 L423.86,372.88 L424.58,371.65 L425.3,370.52 L426.02,369.5 L426.76,368.57 L427.69,367.67 L428.61,366.83 L429.5,366.07 L430.37,365.42 L431.2,364.9 L432.12,364.5 L433.05,364.12 L433.95,363.78 L434.82,363.5 L435.64,363.3 L436.4,363.2 L437.16,363.3 L437.98,363.5 L438.85,363.78 L439.75,364.12 L440.68,364.5 L441.6,364.9 L442.43,365.42 L443.3,366.07 L444.19,366.83 L445.11,367.67 L446.04,368.57 L446.78,369.5 L447.5,370.52 L448.22,371.65 L448.94,372.88 L449.66,374.19 L450.3,375.55 L450.94,376.97 L451.57,378.51 L452.19,380.16 L452.82,381.89 L453.43,383.66 L454.05,385.45 L454.67,387.21 L455.3,388.93 L455.92,390.67 L456.54,392.47 L457.15,394.4 L457.75,396.53 L458.34,398.9 L458.94,401.53 L459.53,404.41 L460.11,407.5 L460.69,410.78 L461.25,414.23 L461.81,418.06 L462.34,422.43 L462.86,426.96 L463.4,431.26 L463.96,435.04 L464.54,438.51 L465.12,441.74 L465.71,444.79 L466.3,447.68 L466.9,450.37 L467.51,452.88 L468.13,455.25 L468.86,457.33 L469.59,459.05 L470.32,460.61 L471.04,462.01 L471.76,463.19 L472.47,464.14 L473.19,464.95 L473.9,465.67 L474.62,466.32 L475.33,466.89 L476.1,467.42 L476.91,467.91 L477.71,468.37 L478.51,468.79 L479.3,469.18 L480.08,469.53 L480.86,469.86 L481.63,470.16 L482.39,470.45 L483.16,470.72 L483.92,470.97 L484.67,471.21 L485.42,471.42 L486.17,471.61 L486.91,471.77 L487.65,471.93 L488.38,472.07 L489.12,472.21 L489.85,472.33 L490.58,472.44 L491.3,472.53 L492.02,472.6" fill="none" stroke="#1b82bd" stroke-width="1.25" stroke-dasharray="1.5 1.4"/>
<path d="M594.5,262.5 L594.18,271.25 L593.91,280.01 L593.65,288.76 L593.39,297.52 L593.15,306.27 L592.91,315.02 L592.67,323.78 L592.44,332.53 L592.2,341.29 L591.98,350.04 L591.75,358.8 L591.53,367.55 L591.3,376.3 L591.08,385.06 L590.86,393.81 L590.65,402.57 L590.43,411.32 L590.22,420.08 L590,428.83 L589.79,437.58 L589.58,446.34 L589.37,455.09 L589.16,463.85 L588.95,472.6 L602.25,472.6 L602.04,463.85 L601.83,455.09 L601.62,446.34 L601.41,437.58 L601.2,428.83 L600.98,420.08 L600.77,411.32 L600.55,402.57 L600.34,393.81 L600.12,385.06 L599.9,376.3 L599.67,367.55 L599.45,358.8 L599.22,350.04 L599,341.29 L598.76,332.53 L598.53,323.78 L598.29,315.02 L598.05,306.27 L597.81,297.52 L597.55,288.76 L597.29,280.01 L597.02,271.25 L596.7,262.5 Z" fill="#a7a9ac"/>
<clipPath id="bc2"><path d="M541.6,472.6 L542.29,472.52 L542.98,472.42 L543.68,472.3 L544.38,472.17 L545.08,472.02 L545.77,471.86 L546.48,471.69 L547.18,471.51 L547.88,471.3 L548.59,471.06 L549.3,470.8 L550.01,470.52 L550.72,470.22 L551.44,469.91 L552.15,469.58 L552.87,469.22 L553.6,468.82 L554.32,468.39 L555.05,467.92 L555.79,467.42 L556.52,466.88 L557.24,466.3 L557.93,465.66 L558.61,464.95 L559.3,464.16 L559.99,463.26 L560.68,462.21 L561.37,460.9 L562.07,459.36 L562.76,457.64 L563.46,455.74 L564.15,453.44 L564.79,450.82 L565.43,448.06 L566.06,445.09 L566.69,441.9 L567.32,438.53 L567.94,434.95 L568.56,431.13 L569.17,426.96 L569.77,422.2 L570.36,417.2 L570.96,412.38 L571.57,408.14 L572.19,404.34 L572.8,400.71 L573.43,397.3 L574.05,394.12 L574.68,391.21 L575.31,388.6 L575.94,386.26 L576.58,384.12 L577.22,382.13 L577.86,380.21 L578.51,378.31 L579.15,376.37 L579.79,374.4 L580.43,372.44 L581.07,370.53 L581.72,368.71 L582.36,367 L583.01,365.44 L583.66,363.93 L584.36,362.49 L585.05,361.14 L585.74,359.88 L586.43,358.75 L587.13,357.73 L587.93,356.74 L588.72,355.81 L589.5,354.96 L590.26,354.25 L591.01,353.68 L591.8,353.23 L592.6,352.81 L593.38,352.44 L594.14,352.13 L594.89,351.91 L595.6,351.8 L596.31,351.91 L597.06,352.13 L597.82,352.44 L598.6,352.81 L599.4,353.23 L600.19,353.68 L600.94,354.25 L601.7,354.96 L602.48,355.81 L603.27,356.74 L604.07,357.73 L604.77,358.75 L605.46,359.88 L606.15,361.14 L606.84,362.49 L607.54,363.93 L608.19,365.44 L608.84,367 L609.48,368.71 L610.13,370.53 L610.77,372.44 L611.41,374.4 L612.05,376.37 L612.69,378.31 L613.34,380.21 L613.98,382.13 L614.62,384.12 L615.26,386.26 L615.89,388.6 L616.52,391.21 L617.15,394.12 L617.77,397.3 L618.4,400.71 L619.01,404.34 L619.63,408.14 L620.24,412.38 L620.84,417.2 L621.43,422.2 L622.03,426.96 L622.64,431.13 L623.26,434.95 L623.88,438.53 L624.51,441.9 L625.14,445.09 L625.77,448.06 L626.41,450.82 L627.05,453.44 L627.74,455.74 L628.44,457.64 L629.13,459.36 L629.83,460.9 L630.52,462.21 L631.21,463.26 L631.9,464.16 L632.59,464.95 L633.27,465.66 L633.96,466.3 L634.68,466.88 L635.41,467.42 L636.15,467.92 L636.88,468.39 L637.6,468.82 L638.33,469.22 L639.05,469.58 L639.76,469.91 L640.48,470.22 L641.19,470.52 L641.9,470.8 L642.61,471.06 L643.32,471.3 L644.02,471.51 L644.72,471.69 L645.43,471.86 L646.12,472.02 L646.82,472.17 L647.52,472.3 L648.22,472.42 L648.91,472.52 L649.6,472.6 Z"/></clipPath>
<path d="M541.6,472.6 L542.29,472.52 L542.98,472.42 L543.68,472.3 L544.38,472.17 L545.08,472.02 L545.77,471.86 L546.48,471.69 L547.18,471.51 L547.88,471.3 L548.59,471.06 L549.3,470.8 L550.01,470.52 L550.72,470.22 L551.44,469.91 L552.15,469.58 L552.87,469.22 L553.6,468.82 L554.32,468.39 L555.05,467.92 L555.79,467.42 L556.52,466.88 L557.24,466.3 L557.93,465.66 L558.61,464.95 L559.3,464.16 L559.99,463.26 L560.68,462.21 L561.37,460.9 L562.07,459.36 L562.76,457.64 L563.46,455.74 L564.15,453.44 L564.79,450.82 L565.43,448.06 L566.06,445.09 L566.69,441.9 L567.32,438.53 L567.94,434.95 L568.56,431.13 L569.17,426.96 L569.77,422.2 L570.36,417.2 L570.96,412.38 L571.57,408.14 L572.19,404.34 L572.8,400.71 L573.43,397.3 L574.05,394.12 L574.68,391.21 L575.31,388.6 L575.94,386.26 L576.58,384.12 L577.22,382.13 L577.86,380.21 L578.51,378.31 L579.15,376.37 L579.79,374.4 L580.43,372.44 L581.07,370.53 L581.72,368.71 L582.36,367 L583.01,365.44 L583.66,363.93 L584.36,362.49 L585.05,361.14 L585.74,359.88 L586.43,358.75 L587.13,357.73 L587.93,356.74 L588.72,355.81 L589.5,354.96 L590.26,354.25 L591.01,353.68 L591.8,353.23 L592.6,352.81 L593.38,352.44 L594.14,352.13 L594.89,351.91 L595.6,351.8 L596.31,351.91 L597.06,352.13 L597.82,352.44 L598.6,352.81 L599.4,353.23 L600.19,353.68 L600.94,354.25 L601.7,354.96 L602.48,355.81 L603.27,356.74 L604.07,357.73 L604.77,358.75 L605.46,359.88 L606.15,361.14 L606.84,362.49 L607.54,363.93 L608.19,365.44 L608.84,367 L609.48,368.71 L610.13,370.53 L610.77,372.44 L611.41,374.4 L612.05,376.37 L612.69,378.31 L613.34,380.21 L613.98,382.13 L614.62,384.12 L615.26,386.26 L615.89,388.6 L616.52,391.21 L617.15,394.12 L617.77,397.3 L618.4,400.71 L619.01,404.34 L619.63,408.14 L620.24,412.38 L620.84,417.2 L621.43,422.2 L622.03,426.96 L622.64,431.13 L623.26,434.95 L623.88,438.53 L624.51,441.9 L625.14,445.09 L625.77,448.06 L626.41,450.82 L627.05,453.44 L627.74,455.74 L628.44,457.64 L629.13,459.36 L629.83,460.9 L630.52,462.21 L631.21,463.26 L631.9,464.16 L632.59,464.95 L633.27,465.66 L633.96,466.3 L634.68,466.88 L635.41,467.42 L636.15,467.92 L636.88,468.39 L637.6,468.82 L638.33,469.22 L639.05,469.58 L639.76,469.91 L640.48,470.22 L641.19,470.52 L641.9,470.8 L642.61,471.06 L643.32,471.3 L644.02,471.51 L644.72,471.69 L645.43,471.86 L646.12,472.02 L646.82,472.17 L647.52,472.3 L648.22,472.42 L648.91,472.52 L649.6,472.6 Z" fill="#54bfee"/>
<g clip-path="url(#bc2)"><path d="M594.5,262.5 L594.18,271.25 L593.91,280.01 L593.65,288.76 L593.39,297.52 L593.15,306.27 L592.91,315.02 L592.67,323.78 L592.44,332.53 L592.2,341.29 L591.98,350.04 L591.75,358.8 L591.53,367.55 L591.3,376.3 L591.08,385.06 L590.86,393.81 L590.65,402.57 L590.43,411.32 L590.22,420.08 L590,428.83 L589.79,437.58 L589.58,446.34 L589.37,455.09 L589.16,463.85 L588.95,472.6 L602.25,472.6 L602.04,463.85 L601.83,455.09 L601.62,446.34 L601.41,437.58 L601.2,428.83 L600.98,420.08 L600.77,411.32 L600.55,402.57 L600.34,393.81 L600.12,385.06 L599.9,376.3 L599.67,367.55 L599.45,358.8 L599.22,350.04 L599,341.29 L598.76,332.53 L598.53,323.78 L598.29,315.02 L598.05,306.27 L597.81,297.52 L597.55,288.76 L597.29,280.01 L597.02,271.25 L596.7,262.5 Z" fill="#319bd3"/></g>
<path d="M541.6,472.6 L542.29,472.52 L542.98,472.42 L543.68,472.3 L544.38,472.17 L545.08,472.02 L545.77,471.86 L546.48,471.69 L547.18,471.51 L547.88,471.3 L548.59,471.06 L549.3,470.8 L550.01,470.52 L550.72,470.22 L551.44,469.91 L552.15,469.58 L552.87,469.22 L553.6,468.82 L554.32,468.39 L555.05,467.92 L555.79,467.42 L556.52,466.88 L557.24,466.3 L557.93,465.66 L558.61,464.95 L559.3,464.16 L559.99,463.26 L560.68,462.21 L561.37,460.9 L562.07,459.36 L562.76,457.64 L563.46,455.74 L564.15,453.44 L564.79,450.82 L565.43,448.06 L566.06,445.09 L566.69,441.9 L567.32,438.53 L567.94,434.95 L568.56,431.13 L569.17,426.96 L569.77,422.2 L570.36,417.2 L570.96,412.38 L571.57,408.14 L572.19,404.34 L572.8,400.71 L573.43,397.3 L574.05,394.12 L574.68,391.21 L575.31,388.6 L575.94,386.26 L576.58,384.12 L577.22,382.13 L577.86,380.21 L578.51,378.31 L579.15,376.37 L579.79,374.4 L580.43,372.44 L581.07,370.53 L581.72,368.71 L582.36,367 L583.01,365.44 L583.66,363.93 L584.36,362.49 L585.05,361.14 L585.74,359.88 L586.43,358.75 L587.13,357.73 L587.93,356.74 L588.72,355.81 L589.5,354.96 L590.26,354.25 L591.01,353.68 L591.8,353.23 L592.6,352.81 L593.38,352.44 L594.14,352.13 L594.89,351.91 L595.6,351.8 L596.31,351.91 L597.06,352.13 L597.82,352.44 L598.6,352.81 L599.4,353.23 L600.19,353.68 L600.94,354.25 L601.7,354.96 L602.48,355.81 L603.27,356.74 L604.07,357.73 L604.77,358.75 L605.46,359.88 L606.15,361.14 L606.84,362.49 L607.54,363.93 L608.19,365.44 L608.84,367 L609.48,368.71 L610.13,370.53 L610.77,372.44 L611.41,374.4 L612.05,376.37 L612.69,378.31 L613.34,380.21 L613.98,382.13 L614.62,384.12 L615.26,386.26 L615.89,388.6 L616.52,391.21 L617.15,394.12 L617.77,397.3 L618.4,400.71 L619.01,404.34 L619.63,408.14 L620.24,412.38 L620.84,417.2 L621.43,422.2 L622.03,426.96 L622.64,431.13 L623.26,434.95 L623.88,438.53 L624.51,441.9 L625.14,445.09 L625.77,448.06 L626.41,450.82 L627.05,453.44 L627.74,455.74 L628.44,457.64 L629.13,459.36 L629.83,460.9 L630.52,462.21 L631.21,463.26 L631.9,464.16 L632.59,464.95 L633.27,465.66 L633.96,466.3 L634.68,466.88 L635.41,467.42 L636.15,467.92 L636.88,468.39 L637.6,468.82 L638.33,469.22 L639.05,469.58 L639.76,469.91 L640.48,470.22 L641.19,470.52 L641.9,470.8 L642.61,471.06 L643.32,471.3 L644.02,471.51 L644.72,471.69 L645.43,471.86 L646.12,472.02 L646.82,472.17 L647.52,472.3 L648.22,472.42 L648.91,472.52 L649.6,472.6" fill="none" stroke="#1b82bd" stroke-width="1.25" stroke-dasharray="1.5 1.4"/>
<path d="M777,209.5 L776.64,220.46 L776.33,231.43 L776.03,242.39 L775.74,253.35 L775.46,264.31 L775.19,275.27 L774.92,286.24 L774.66,297.2 L774.39,308.16 L774.13,319.12 L773.88,330.09 L773.62,341.05 L773.37,352.01 L773.12,362.98 L772.87,373.94 L772.63,384.9 L772.38,395.86 L772.14,406.83 L771.89,417.79 L771.65,428.75 L771.41,439.71 L771.17,450.68 L770.94,461.64 L770.7,472.6 L786.3,472.6 L786.06,461.64 L785.83,450.68 L785.59,439.71 L785.35,428.75 L785.11,417.79 L784.86,406.83 L784.62,395.86 L784.37,384.9 L784.13,373.94 L783.88,362.98 L783.63,352.01 L783.38,341.05 L783.12,330.09 L782.87,319.12 L782.61,308.16 L782.34,297.2 L782.08,286.24 L781.81,275.27 L781.54,264.31 L781.26,253.35 L780.97,242.39 L780.67,231.43 L780.36,220.46 L780,209.5 Z" fill="#a7a9ac"/>
<clipPath id="bc3"><path d="M724.5,472.6 L725.2,472.52 L725.91,472.41 L726.62,472.28 L727.34,472.14 L728.06,471.98 L728.79,471.8 L729.51,471.62 L730.24,471.42 L730.98,471.2 L731.72,470.95 L732.47,470.67 L733.22,470.37 L733.98,470.05 L734.74,469.71 L735.5,469.35 L736.28,468.96 L737.06,468.54 L737.85,468.08 L738.65,467.58 L739.46,467.03 L740.28,466.45 L741.04,465.83 L741.74,465.14 L742.43,464.38 L743.12,463.53 L743.82,462.57 L744.52,461.44 L745.22,460.03 L745.93,458.38 L746.64,456.52 L747.35,454.48 L748.07,452.02 L748.65,449.2 L749.22,446.23 L749.77,443.04 L750.32,439.61 L750.86,435.99 L751.39,432.15 L751.91,428.04 L752.41,423.56 L752.89,418.45 L753.35,413.08 L753.82,407.89 L754.31,403.34 L754.82,399.25 L755.35,395.36 L755.88,391.69 L756.42,388.28 L756.97,385.15 L757.51,382.34 L758.07,379.82 L758.64,377.53 L759.21,375.39 L759.79,373.33 L760.37,371.29 L760.95,369.2 L761.53,367.08 L762.11,364.98 L762.69,362.93 L763.27,360.97 L763.86,359.14 L764.46,357.45 L765.07,355.83 L765.77,354.29 L766.48,352.83 L767.18,351.49 L767.88,350.27 L768.61,349.17 L769.58,348.1 L770.53,347.1 L771.45,346.2 L772.34,345.43 L773.18,344.82 L774.13,344.34 L775.09,343.89 L776.03,343.49 L776.91,343.16 L777.74,342.92 L778.5,342.8 L779.26,342.92 L780.09,343.16 L780.97,343.49 L781.91,343.89 L782.87,344.34 L783.82,344.82 L784.66,345.43 L785.55,346.2 L786.47,347.1 L787.42,348.1 L788.39,349.17 L789.12,350.27 L789.82,351.49 L790.52,352.83 L791.23,354.29 L791.93,355.83 L792.54,357.45 L793.14,359.14 L793.73,360.97 L794.31,362.93 L794.89,364.98 L795.47,367.08 L796.05,369.2 L796.63,371.29 L797.21,373.33 L797.79,375.39 L798.36,377.53 L798.93,379.82 L799.49,382.34 L800.03,385.15 L800.58,388.28 L801.12,391.69 L801.65,395.36 L802.18,399.25 L802.69,403.34 L803.18,407.89 L803.65,413.08 L804.11,418.45 L804.59,423.56 L805.09,428.04 L805.61,432.15 L806.14,435.99 L806.68,439.61 L807.23,443.04 L807.78,446.23 L808.35,449.2 L808.93,452.02 L809.65,454.48 L810.36,456.52 L811.07,458.38 L811.78,460.03 L812.48,461.44 L813.18,462.57 L813.88,463.53 L814.57,464.38 L815.26,465.14 L815.96,465.83 L816.72,466.45 L817.54,467.03 L818.35,467.58 L819.15,468.08 L819.94,468.54 L820.72,468.96 L821.5,469.35 L822.26,469.71 L823.02,470.05 L823.78,470.37 L824.53,470.67 L825.28,470.95 L826.02,471.2 L826.76,471.42 L827.49,471.62 L828.21,471.8 L828.94,471.98 L829.66,472.14 L830.38,472.28 L831.09,472.41 L831.8,472.52 L832.5,472.6 Z"/></clipPath>
<path d="M724.5,472.6 L725.2,472.52 L725.91,472.41 L726.62,472.28 L727.34,472.14 L728.06,471.98 L728.79,471.8 L729.51,471.62 L730.24,471.42 L730.98,471.2 L731.72,470.95 L732.47,470.67 L733.22,470.37 L733.98,470.05 L734.74,469.71 L735.5,469.35 L736.28,468.96 L737.06,468.54 L737.85,468.08 L738.65,467.58 L739.46,467.03 L740.28,466.45 L741.04,465.83 L741.74,465.14 L742.43,464.38 L743.12,463.53 L743.82,462.57 L744.52,461.44 L745.22,460.03 L745.93,458.38 L746.64,456.52 L747.35,454.48 L748.07,452.02 L748.65,449.2 L749.22,446.23 L749.77,443.04 L750.32,439.61 L750.86,435.99 L751.39,432.15 L751.91,428.04 L752.41,423.56 L752.89,418.45 L753.35,413.08 L753.82,407.89 L754.31,403.34 L754.82,399.25 L755.35,395.36 L755.88,391.69 L756.42,388.28 L756.97,385.15 L757.51,382.34 L758.07,379.82 L758.64,377.53 L759.21,375.39 L759.79,373.33 L760.37,371.29 L760.95,369.2 L761.53,367.08 L762.11,364.98 L762.69,362.93 L763.27,360.97 L763.86,359.14 L764.46,357.45 L765.07,355.83 L765.77,354.29 L766.48,352.83 L767.18,351.49 L767.88,350.27 L768.61,349.17 L769.58,348.1 L770.53,347.1 L771.45,346.2 L772.34,345.43 L773.18,344.82 L774.13,344.34 L775.09,343.89 L776.03,343.49 L776.91,343.16 L777.74,342.92 L778.5,342.8 L779.26,342.92 L780.09,343.16 L780.97,343.49 L781.91,343.89 L782.87,344.34 L783.82,344.82 L784.66,345.43 L785.55,346.2 L786.47,347.1 L787.42,348.1 L788.39,349.17 L789.12,350.27 L789.82,351.49 L790.52,352.83 L791.23,354.29 L791.93,355.83 L792.54,357.45 L793.14,359.14 L793.73,360.97 L794.31,362.93 L794.89,364.98 L795.47,367.08 L796.05,369.2 L796.63,371.29 L797.21,373.33 L797.79,375.39 L798.36,377.53 L798.93,379.82 L799.49,382.34 L800.03,385.15 L800.58,388.28 L801.12,391.69 L801.65,395.36 L802.18,399.25 L802.69,403.34 L803.18,407.89 L803.65,413.08 L804.11,418.45 L804.59,423.56 L805.09,428.04 L805.61,432.15 L806.14,435.99 L806.68,439.61 L807.23,443.04 L807.78,446.23 L808.35,449.2 L808.93,452.02 L809.65,454.48 L810.36,456.52 L811.07,458.38 L811.78,460.03 L812.48,461.44 L813.18,462.57 L813.88,463.53 L814.57,464.38 L815.26,465.14 L815.96,465.83 L816.72,466.45 L817.54,467.03 L818.35,467.58 L819.15,468.08 L819.94,468.54 L820.72,468.96 L821.5,469.35 L822.26,469.71 L823.02,470.05 L823.78,470.37 L824.53,470.67 L825.28,470.95 L826.02,471.2 L826.76,471.42 L827.49,471.62 L828.21,471.8 L828.94,471.98 L829.66,472.14 L830.38,472.28 L831.09,472.41 L831.8,472.52 L832.5,472.6 Z" fill="#54bfee"/>
<g clip-path="url(#bc3)"><path d="M777,209.5 L776.64,220.46 L776.33,231.43 L776.03,242.39 L775.74,253.35 L775.46,264.31 L775.19,275.27 L774.92,286.24 L774.66,297.2 L774.39,308.16 L774.13,319.12 L773.88,330.09 L773.62,341.05 L773.37,352.01 L773.12,362.98 L772.87,373.94 L772.63,384.9 L772.38,395.86 L772.14,406.83 L771.89,417.79 L771.65,428.75 L771.41,439.71 L771.17,450.68 L770.94,461.64 L770.7,472.6 L786.3,472.6 L786.06,461.64 L785.83,450.68 L785.59,439.71 L785.35,428.75 L785.11,417.79 L784.86,406.83 L784.62,395.86 L784.37,384.9 L784.13,373.94 L783.88,362.98 L783.63,352.01 L783.38,341.05 L783.12,330.09 L782.87,319.12 L782.61,308.16 L782.34,297.2 L782.08,286.24 L781.81,275.27 L781.54,264.31 L781.26,253.35 L780.97,242.39 L780.67,231.43 L780.36,220.46 L780,209.5 Z" fill="#319bd3"/></g>
<g clip-path="url(#bc3)"><path d="M145.2,466.5 C147,469.6 149,471.4 151.4,471.4 C156.5,471.4 160.5,464.5 165.5,455 C187.4,415.7 207.1,372.7 222.2,330.3 C229,312.7 243,273 255.2,258.4 C261.5,248.5 279,240.5 311,237.7 L432,217.6 H698.3 C716,217.6 727,246 735.8,277.1 C740,292 751,358 756.7,393.5 C760,420 765.5,449 772.2,466.6 C774,470.5 776,472 778.3,472 C780.6,472 782.6,470.5 784.4,466.6 C790,454 797,425 804,407 C806.5,403 810,400.5 816.2,400" fill="none" stroke="#145a82" stroke-width="1.15"/></g>
<path d="M724.5,472.6 L725.2,472.52 L725.91,472.41 L726.62,472.28 L727.34,472.14 L728.06,471.98 L728.79,471.8 L729.51,471.62 L730.24,471.42 L730.98,471.2 L731.72,470.95 L732.47,470.67 L733.22,470.37 L733.98,470.05 L734.74,469.71 L735.5,469.35 L736.28,468.96 L737.06,468.54 L737.85,468.08 L738.65,467.58 L739.46,467.03 L740.28,466.45 L741.04,465.83 L741.74,465.14 L742.43,464.38 L743.12,463.53 L743.82,462.57 L744.52,461.44 L745.22,460.03 L745.93,458.38 L746.64,456.52 L747.35,454.48 L748.07,452.02 L748.65,449.2 L749.22,446.23 L749.77,443.04 L750.32,439.61 L750.86,435.99 L751.39,432.15 L751.91,428.04 L752.41,423.56 L752.89,418.45 L753.35,413.08 L753.82,407.89 L754.31,403.34 L754.82,399.25 L755.35,395.36 L755.88,391.69 L756.42,388.28 L756.97,385.15 L757.51,382.34 L758.07,379.82 L758.64,377.53 L759.21,375.39 L759.79,373.33 L760.37,371.29 L760.95,369.2 L761.53,367.08 L762.11,364.98 L762.69,362.93 L763.27,360.97 L763.86,359.14 L764.46,357.45 L765.07,355.83 L765.77,354.29 L766.48,352.83 L767.18,351.49 L767.88,350.27 L768.61,349.17 L769.58,348.1 L770.53,347.1 L771.45,346.2 L772.34,345.43 L773.18,344.82 L774.13,344.34 L775.09,343.89 L776.03,343.49 L776.91,343.16 L777.74,342.92 L778.5,342.8 L779.26,342.92 L780.09,343.16 L780.97,343.49 L781.91,343.89 L782.87,344.34 L783.82,344.82 L784.66,345.43 L785.55,346.2 L786.47,347.1 L787.42,348.1 L788.39,349.17 L789.12,350.27 L789.82,351.49 L790.52,352.83 L791.23,354.29 L791.93,355.83 L792.54,357.45 L793.14,359.14 L793.73,360.97 L794.31,362.93 L794.89,364.98 L795.47,367.08 L796.05,369.2 L796.63,371.29 L797.21,373.33 L797.79,375.39 L798.36,377.53 L798.93,379.82 L799.49,382.34 L800.03,385.15 L800.58,388.28 L801.12,391.69 L801.65,395.36 L802.18,399.25 L802.69,403.34 L803.18,407.89 L803.65,413.08 L804.11,418.45 L804.59,423.56 L805.09,428.04 L805.61,432.15 L806.14,435.99 L806.68,439.61 L807.23,443.04 L807.78,446.23 L808.35,449.2 L808.93,452.02 L809.65,454.48 L810.36,456.52 L811.07,458.38 L811.78,460.03 L812.48,461.44 L813.18,462.57 L813.88,463.53 L814.57,464.38 L815.26,465.14 L815.96,465.83 L816.72,466.45 L817.54,467.03 L818.35,467.58 L819.15,468.08 L819.94,468.54 L820.72,468.96 L821.5,469.35 L822.26,469.71 L823.02,470.05 L823.78,470.37 L824.53,470.67 L825.28,470.95 L826.02,471.2 L826.76,471.42 L827.49,471.62 L828.21,471.8 L828.94,471.98 L829.66,472.14 L830.38,472.28 L831.09,472.41 L831.8,472.52 L832.5,472.6" fill="none" stroke="#1b82bd" stroke-width="1.25" stroke-dasharray="1.5 1.4"/>
</g>
<path d="M114.5,472.8 H832.5" stroke="#4b7485" stroke-width="1.4" stroke-dasharray="1.7 1" fill="none"/>
<clipPath id="above"><rect x="0" y="0" width="959" height="473.5"/></clipPath>
<g>
<clipPath id="gc0"><path d="M246.8,475.8 L247.18,475.78 L247.55,475.75 L247.93,475.72 L248.3,475.68 L248.68,475.64 L249.06,475.59 L249.43,475.55 L249.81,475.5 L250.18,475.44 L250.56,475.37 L250.94,475.3 L251.31,475.22 L251.69,475.14 L252.06,475.05 L252.44,474.96 L252.82,474.86 L253.19,474.75 L253.57,474.63 L253.94,474.5 L254.32,474.36 L254.69,474.21 L255.07,474.05 L255.45,473.88 L255.82,473.68 L256.2,473.46 L256.57,473.21 L256.95,472.92 L257.33,472.56 L257.7,472.13 L258.08,471.65 L258.45,471.12 L258.83,470.49 L259.21,469.76 L259.58,468.99 L259.96,468.17 L260.33,467.29 L260.71,466.35 L261.09,465.36 L261.46,464.3 L261.84,463.14 L262.21,461.82 L262.59,460.44 L262.97,459.1 L263.34,457.92 L263.72,456.87 L264.09,455.86 L264.47,454.92 L264.85,454.04 L265.22,453.23 L265.6,452.5 L265.97,451.86 L266.35,451.26 L266.73,450.71 L267.1,450.18 L267.48,449.65 L267.85,449.11 L268.23,448.57 L268.61,448.02 L268.98,447.49 L269.36,446.99 L269.73,446.52 L270.11,446.08 L270.48,445.66 L270.86,445.26 L271.24,444.89 L271.61,444.54 L271.99,444.23 L272.36,443.94 L272.74,443.67 L273.12,443.41 L273.49,443.18 L273.87,442.98 L274.24,442.82 L274.62,442.7 L275,442.58 L275.37,442.48 L275.75,442.39 L276.12,442.33 L276.5,442.3 L276.88,442.33 L277.25,442.39 L277.63,442.48 L278,442.58 L278.38,442.7 L278.76,442.82 L279.13,442.98 L279.51,443.18 L279.88,443.41 L280.26,443.67 L280.64,443.94 L281.01,444.23 L281.39,444.54 L281.76,444.89 L282.14,445.26 L282.52,445.66 L282.89,446.08 L283.27,446.52 L283.64,446.99 L284.02,447.49 L284.39,448.02 L284.77,448.57 L285.15,449.11 L285.52,449.65 L285.9,450.18 L286.27,450.71 L286.65,451.26 L287.03,451.86 L287.4,452.5 L287.78,453.23 L288.15,454.04 L288.53,454.92 L288.91,455.86 L289.28,456.87 L289.66,457.92 L290.03,459.1 L290.41,460.44 L290.79,461.82 L291.16,463.14 L291.54,464.3 L291.91,465.36 L292.29,466.35 L292.67,467.29 L293.04,468.17 L293.42,468.99 L293.79,469.76 L294.17,470.49 L294.55,471.12 L294.92,471.65 L295.3,472.13 L295.67,472.56 L296.05,472.92 L296.43,473.21 L296.8,473.46 L297.18,473.68 L297.55,473.88 L297.93,474.05 L298.31,474.21 L298.68,474.36 L299.06,474.5 L299.43,474.63 L299.81,474.75 L300.18,474.86 L300.56,474.96 L300.94,475.05 L301.31,475.14 L301.69,475.22 L302.06,475.3 L302.44,475.37 L302.82,475.44 L303.19,475.5 L303.57,475.55 L303.94,475.59 L304.32,475.64 L304.7,475.68 L305.07,475.72 L305.45,475.75 L305.82,475.78 L306.2,475.8 Z"/></clipPath>
<g clip-path="url(#above)">
<path d="M246.8,475.8 L247.18,475.78 L247.55,475.75 L247.93,475.72 L248.3,475.68 L248.68,475.64 L249.06,475.59 L249.43,475.55 L249.81,475.5 L250.18,475.44 L250.56,475.37 L250.94,475.3 L251.31,475.22 L251.69,475.14 L252.06,475.05 L252.44,474.96 L252.82,474.86 L253.19,474.75 L253.57,474.63 L253.94,474.5 L254.32,474.36 L254.69,474.21 L255.07,474.05 L255.45,473.88 L255.82,473.68 L256.2,473.46 L256.57,473.21 L256.95,472.92 L257.33,472.56 L257.7,472.13 L258.08,471.65 L258.45,471.12 L258.83,470.49 L259.21,469.76 L259.58,468.99 L259.96,468.17 L260.33,467.29 L260.71,466.35 L261.09,465.36 L261.46,464.3 L261.84,463.14 L262.21,461.82 L262.59,460.44 L262.97,459.1 L263.34,457.92 L263.72,456.87 L264.09,455.86 L264.47,454.92 L264.85,454.04 L265.22,453.23 L265.6,452.5 L265.97,451.86 L266.35,451.26 L266.73,450.71 L267.1,450.18 L267.48,449.65 L267.85,449.11 L268.23,448.57 L268.61,448.02 L268.98,447.49 L269.36,446.99 L269.73,446.52 L270.11,446.08 L270.48,445.66 L270.86,445.26 L271.24,444.89 L271.61,444.54 L271.99,444.23 L272.36,443.94 L272.74,443.67 L273.12,443.41 L273.49,443.18 L273.87,442.98 L274.24,442.82 L274.62,442.7 L275,442.58 L275.37,442.48 L275.75,442.39 L276.12,442.33 L276.5,442.3 L276.88,442.33 L277.25,442.39 L277.63,442.48 L278,442.58 L278.38,442.7 L278.76,442.82 L279.13,442.98 L279.51,443.18 L279.88,443.41 L280.26,443.67 L280.64,443.94 L281.01,444.23 L281.39,444.54 L281.76,444.89 L282.14,445.26 L282.52,445.66 L282.89,446.08 L283.27,446.52 L283.64,446.99 L284.02,447.49 L284.39,448.02 L284.77,448.57 L285.15,449.11 L285.52,449.65 L285.9,450.18 L286.27,450.71 L286.65,451.26 L287.03,451.86 L287.4,452.5 L287.78,453.23 L288.15,454.04 L288.53,454.92 L288.91,455.86 L289.28,456.87 L289.66,457.92 L290.03,459.1 L290.41,460.44 L290.79,461.82 L291.16,463.14 L291.54,464.3 L291.91,465.36 L292.29,466.35 L292.67,467.29 L293.04,468.17 L293.42,468.99 L293.79,469.76 L294.17,470.49 L294.55,471.12 L294.92,471.65 L295.3,472.13 L295.67,472.56 L296.05,472.92 L296.43,473.21 L296.8,473.46 L297.18,473.68 L297.55,473.88 L297.93,474.05 L298.31,474.21 L298.68,474.36 L299.06,474.5 L299.43,474.63 L299.81,474.75 L300.18,474.86 L300.56,474.96 L300.94,475.05 L301.31,475.14 L301.69,475.22 L302.06,475.3 L302.44,475.37 L302.82,475.44 L303.19,475.5 L303.57,475.55 L303.94,475.59 L304.32,475.64 L304.7,475.68 L305.07,475.72 L305.45,475.75 L305.82,475.78 L306.2,475.8 Z" fill="#939598"/>
<g clip-path="url(#gc0)"><path d="M275.8,357 L275.61,361.82 L275.44,366.63 L275.28,371.45 L275.12,376.27 L274.97,381.08 L274.82,385.9 L274.68,390.72 L274.54,395.53 L274.39,400.35 L274.25,405.17 L274.12,409.98 L273.98,414.8 L273.84,419.62 L273.71,424.43 L273.57,429.25 L273.44,434.07 L273.31,438.88 L273.18,443.7 L273.04,448.52 L272.91,453.33 L272.79,458.15 L272.66,462.97 L272.53,467.78 L272.4,472.6 L280.6,472.6 L280.47,467.78 L280.34,462.97 L280.21,458.15 L280.09,453.33 L279.96,448.52 L279.82,443.7 L279.69,438.88 L279.56,434.07 L279.43,429.25 L279.29,424.43 L279.16,419.62 L279.02,414.8 L278.88,409.98 L278.75,405.17 L278.61,400.35 L278.46,395.53 L278.32,390.72 L278.18,385.9 L278.03,381.08 L277.88,376.27 L277.72,371.45 L277.56,366.63 L277.39,361.82 L277.2,357 Z" fill="#808285"/></g>
<path d="M246.8,475.8 L247.18,475.78 L247.55,475.75 L247.93,475.72 L248.3,475.68 L248.68,475.64 L249.06,475.59 L249.43,475.55 L249.81,475.5 L250.18,475.44 L250.56,475.37 L250.94,475.3 L251.31,475.22 L251.69,475.14 L252.06,475.05 L252.44,474.96 L252.82,474.86 L253.19,474.75 L253.57,474.63 L253.94,474.5 L254.32,474.36 L254.69,474.21 L255.07,474.05 L255.45,473.88 L255.82,473.68 L256.2,473.46 L256.57,473.21 L256.95,472.92 L257.33,472.56 L257.7,472.13 L258.08,471.65 L258.45,471.12 L258.83,470.49 L259.21,469.76 L259.58,468.99 L259.96,468.17 L260.33,467.29 L260.71,466.35 L261.09,465.36 L261.46,464.3 L261.84,463.14 L262.21,461.82 L262.59,460.44 L262.97,459.1 L263.34,457.92 L263.72,456.87 L264.09,455.86 L264.47,454.92 L264.85,454.04 L265.22,453.23 L265.6,452.5 L265.97,451.86 L266.35,451.26 L266.73,450.71 L267.1,450.18 L267.48,449.65 L267.85,449.11 L268.23,448.57 L268.61,448.02 L268.98,447.49 L269.36,446.99 L269.73,446.52 L270.11,446.08 L270.48,445.66 L270.86,445.26 L271.24,444.89 L271.61,444.54 L271.99,444.23 L272.36,443.94 L272.74,443.67 L273.12,443.41 L273.49,443.18 L273.87,442.98 L274.24,442.82 L274.62,442.7 L275,442.58 L275.37,442.48 L275.75,442.39 L276.12,442.33 L276.5,442.3 L276.88,442.33 L277.25,442.39 L277.63,442.48 L278,442.58 L278.38,442.7 L278.76,442.82 L279.13,442.98 L279.51,443.18 L279.88,443.41 L280.26,443.67 L280.64,443.94 L281.01,444.23 L281.39,444.54 L281.76,444.89 L282.14,445.26 L282.52,445.66 L282.89,446.08 L283.27,446.52 L283.64,446.99 L284.02,447.49 L284.39,448.02 L284.77,448.57 L285.15,449.11 L285.52,449.65 L285.9,450.18 L286.27,450.71 L286.65,451.26 L287.03,451.86 L287.4,452.5 L287.78,453.23 L288.15,454.04 L288.53,454.92 L288.91,455.86 L289.28,456.87 L289.66,457.92 L290.03,459.1 L290.41,460.44 L290.79,461.82 L291.16,463.14 L291.54,464.3 L291.91,465.36 L292.29,466.35 L292.67,467.29 L293.04,468.17 L293.42,468.99 L293.79,469.76 L294.17,470.49 L294.55,471.12 L294.92,471.65 L295.3,472.13 L295.67,472.56 L296.05,472.92 L296.43,473.21 L296.8,473.46 L297.18,473.68 L297.55,473.88 L297.93,474.05 L298.31,474.21 L298.68,474.36 L299.06,474.5 L299.43,474.63 L299.81,474.75 L300.18,474.86 L300.56,474.96 L300.94,475.05 L301.31,475.14 L301.69,475.22 L302.06,475.3 L302.44,475.37 L302.82,475.44 L303.19,475.5 L303.57,475.55 L303.94,475.59 L304.32,475.64 L304.7,475.68 L305.07,475.72 L305.45,475.75 L305.82,475.78 L306.2,475.8" fill="none" stroke="#4f5052" stroke-width="1.2" stroke-dasharray="1.4 1.4"/>
</g>
<clipPath id="gc1"><path d="M407.24,475.8 L407.61,475.78 L407.98,475.75 L408.35,475.72 L408.72,475.69 L409.09,475.65 L409.45,475.61 L409.82,475.56 L410.19,475.52 L410.56,475.46 L410.93,475.4 L411.3,475.33 L411.67,475.26 L412.04,475.18 L412.41,475.1 L412.78,475.01 L413.15,474.92 L413.51,474.82 L413.88,474.71 L414.25,474.58 L414.62,474.45 L414.99,474.31 L415.36,474.16 L415.73,474 L416.1,473.81 L416.47,473.61 L416.84,473.37 L417.21,473.1 L417.58,472.76 L417.94,472.36 L418.31,471.91 L418.68,471.42 L419.05,470.82 L419.42,470.14 L419.79,469.42 L420.16,468.65 L420.53,467.82 L420.9,466.94 L421.27,466.01 L421.64,465.02 L422,463.94 L422.37,462.7 L422.74,461.4 L423.11,460.15 L423.48,459.05 L423.85,458.06 L424.22,457.11 L424.59,456.23 L424.96,455.4 L425.33,454.65 L425.7,453.97 L426.06,453.36 L426.43,452.8 L426.8,452.28 L427.17,451.79 L427.54,451.29 L427.91,450.79 L428.28,450.27 L428.65,449.76 L429.02,449.27 L429.39,448.79 L429.76,448.35 L430.13,447.94 L430.49,447.55 L430.86,447.18 L431.23,446.83 L431.6,446.5 L431.97,446.21 L432.34,445.94 L432.71,445.68 L433.08,445.44 L433.45,445.22 L433.82,445.04 L434.19,444.89 L434.55,444.77 L434.92,444.66 L435.29,444.57 L435.66,444.49 L436.03,444.43 L436.4,444.4 L436.77,444.43 L437.14,444.49 L437.51,444.57 L437.88,444.66 L438.25,444.77 L438.61,444.89 L438.98,445.04 L439.35,445.22 L439.72,445.44 L440.09,445.68 L440.46,445.94 L440.83,446.21 L441.2,446.5 L441.57,446.83 L441.94,447.18 L442.31,447.55 L442.67,447.94 L443.04,448.35 L443.41,448.79 L443.78,449.27 L444.15,449.76 L444.52,450.27 L444.89,450.79 L445.26,451.29 L445.63,451.79 L446,452.28 L446.37,452.8 L446.74,453.36 L447.1,453.97 L447.47,454.65 L447.84,455.4 L448.21,456.23 L448.58,457.11 L448.95,458.06 L449.32,459.05 L449.69,460.15 L450.06,461.4 L450.43,462.7 L450.8,463.94 L451.16,465.02 L451.53,466.01 L451.9,466.94 L452.27,467.82 L452.64,468.65 L453.01,469.42 L453.38,470.14 L453.75,470.82 L454.12,471.42 L454.49,471.91 L454.86,472.36 L455.22,472.76 L455.59,473.1 L455.96,473.37 L456.33,473.61 L456.7,473.81 L457.07,474 L457.44,474.16 L457.81,474.31 L458.18,474.45 L458.55,474.58 L458.92,474.71 L459.29,474.82 L459.65,474.92 L460.02,475.01 L460.39,475.1 L460.76,475.18 L461.13,475.26 L461.5,475.33 L461.87,475.4 L462.24,475.46 L462.61,475.52 L462.98,475.56 L463.35,475.61 L463.71,475.65 L464.08,475.69 L464.45,475.72 L464.82,475.75 L465.19,475.78 L465.56,475.8 Z"/></clipPath>
<g clip-path="url(#above)">
<path d="M407.24,475.8 L407.61,475.78 L407.98,475.75 L408.35,475.72 L408.72,475.69 L409.09,475.65 L409.45,475.61 L409.82,475.56 L410.19,475.52 L410.56,475.46 L410.93,475.4 L411.3,475.33 L411.67,475.26 L412.04,475.18 L412.41,475.1 L412.78,475.01 L413.15,474.92 L413.51,474.82 L413.88,474.71 L414.25,474.58 L414.62,474.45 L414.99,474.31 L415.36,474.16 L415.73,474 L416.1,473.81 L416.47,473.61 L416.84,473.37 L417.21,473.1 L417.58,472.76 L417.94,472.36 L418.31,471.91 L418.68,471.42 L419.05,470.82 L419.42,470.14 L419.79,469.42 L420.16,468.65 L420.53,467.82 L420.9,466.94 L421.27,466.01 L421.64,465.02 L422,463.94 L422.37,462.7 L422.74,461.4 L423.11,460.15 L423.48,459.05 L423.85,458.06 L424.22,457.11 L424.59,456.23 L424.96,455.4 L425.33,454.65 L425.7,453.97 L426.06,453.36 L426.43,452.8 L426.8,452.28 L427.17,451.79 L427.54,451.29 L427.91,450.79 L428.28,450.27 L428.65,449.76 L429.02,449.27 L429.39,448.79 L429.76,448.35 L430.13,447.94 L430.49,447.55 L430.86,447.18 L431.23,446.83 L431.6,446.5 L431.97,446.21 L432.34,445.94 L432.71,445.68 L433.08,445.44 L433.45,445.22 L433.82,445.04 L434.19,444.89 L434.55,444.77 L434.92,444.66 L435.29,444.57 L435.66,444.49 L436.03,444.43 L436.4,444.4 L436.77,444.43 L437.14,444.49 L437.51,444.57 L437.88,444.66 L438.25,444.77 L438.61,444.89 L438.98,445.04 L439.35,445.22 L439.72,445.44 L440.09,445.68 L440.46,445.94 L440.83,446.21 L441.2,446.5 L441.57,446.83 L441.94,447.18 L442.31,447.55 L442.67,447.94 L443.04,448.35 L443.41,448.79 L443.78,449.27 L444.15,449.76 L444.52,450.27 L444.89,450.79 L445.26,451.29 L445.63,451.79 L446,452.28 L446.37,452.8 L446.74,453.36 L447.1,453.97 L447.47,454.65 L447.84,455.4 L448.21,456.23 L448.58,457.11 L448.95,458.06 L449.32,459.05 L449.69,460.15 L450.06,461.4 L450.43,462.7 L450.8,463.94 L451.16,465.02 L451.53,466.01 L451.9,466.94 L452.27,467.82 L452.64,468.65 L453.01,469.42 L453.38,470.14 L453.75,470.82 L454.12,471.42 L454.49,471.91 L454.86,472.36 L455.22,472.76 L455.59,473.1 L455.96,473.37 L456.33,473.61 L456.7,473.81 L457.07,474 L457.44,474.16 L457.81,474.31 L458.18,474.45 L458.55,474.58 L458.92,474.71 L459.29,474.82 L459.65,474.92 L460.02,475.01 L460.39,475.1 L460.76,475.18 L461.13,475.26 L461.5,475.33 L461.87,475.4 L462.24,475.46 L462.61,475.52 L462.98,475.56 L463.35,475.61 L463.71,475.65 L464.08,475.69 L464.45,475.72 L464.82,475.75 L465.19,475.78 L465.56,475.8 Z" fill="#939598"/>
<g clip-path="url(#gc1)"><path d="M435.6,309.5 L435.35,316.3 L435.13,323.09 L434.92,329.89 L434.72,336.68 L434.53,343.48 L434.34,350.27 L434.15,357.07 L433.96,363.87 L433.78,370.66 L433.6,377.46 L433.42,384.25 L433.24,391.05 L433.07,397.85 L432.89,404.64 L432.72,411.44 L432.55,418.23 L432.37,425.03 L432.2,431.83 L432.03,438.62 L431.87,445.42 L431.7,452.21 L431.53,459.01 L431.37,465.8 L431.2,472.6 L441.6,472.6 L441.43,465.8 L441.27,459.01 L441.1,452.21 L440.93,445.42 L440.77,438.62 L440.6,431.83 L440.43,425.03 L440.25,418.23 L440.08,411.44 L439.91,404.64 L439.73,397.85 L439.56,391.05 L439.38,384.25 L439.2,377.46 L439.02,370.66 L438.84,363.87 L438.65,357.07 L438.46,350.27 L438.27,343.48 L438.08,336.68 L437.88,329.89 L437.67,323.09 L437.45,316.3 L437.2,309.5 Z" fill="#808285"/></g>
<path d="M407.24,475.8 L407.61,475.78 L407.98,475.75 L408.35,475.72 L408.72,475.69 L409.09,475.65 L409.45,475.61 L409.82,475.56 L410.19,475.52 L410.56,475.46 L410.93,475.4 L411.3,475.33 L411.67,475.26 L412.04,475.18 L412.41,475.1 L412.78,475.01 L413.15,474.92 L413.51,474.82 L413.88,474.71 L414.25,474.58 L414.62,474.45 L414.99,474.31 L415.36,474.16 L415.73,474 L416.1,473.81 L416.47,473.61 L416.84,473.37 L417.21,473.1 L417.58,472.76 L417.94,472.36 L418.31,471.91 L418.68,471.42 L419.05,470.82 L419.42,470.14 L419.79,469.42 L420.16,468.65 L420.53,467.82 L420.9,466.94 L421.27,466.01 L421.64,465.02 L422,463.94 L422.37,462.7 L422.74,461.4 L423.11,460.15 L423.48,459.05 L423.85,458.06 L424.22,457.11 L424.59,456.23 L424.96,455.4 L425.33,454.65 L425.7,453.97 L426.06,453.36 L426.43,452.8 L426.8,452.28 L427.17,451.79 L427.54,451.29 L427.91,450.79 L428.28,450.27 L428.65,449.76 L429.02,449.27 L429.39,448.79 L429.76,448.35 L430.13,447.94 L430.49,447.55 L430.86,447.18 L431.23,446.83 L431.6,446.5 L431.97,446.21 L432.34,445.94 L432.71,445.68 L433.08,445.44 L433.45,445.22 L433.82,445.04 L434.19,444.89 L434.55,444.77 L434.92,444.66 L435.29,444.57 L435.66,444.49 L436.03,444.43 L436.4,444.4 L436.77,444.43 L437.14,444.49 L437.51,444.57 L437.88,444.66 L438.25,444.77 L438.61,444.89 L438.98,445.04 L439.35,445.22 L439.72,445.44 L440.09,445.68 L440.46,445.94 L440.83,446.21 L441.2,446.5 L441.57,446.83 L441.94,447.18 L442.31,447.55 L442.67,447.94 L443.04,448.35 L443.41,448.79 L443.78,449.27 L444.15,449.76 L444.52,450.27 L444.89,450.79 L445.26,451.29 L445.63,451.79 L446,452.28 L446.37,452.8 L446.74,453.36 L447.1,453.97 L447.47,454.65 L447.84,455.4 L448.21,456.23 L448.58,457.11 L448.95,458.06 L449.32,459.05 L449.69,460.15 L450.06,461.4 L450.43,462.7 L450.8,463.94 L451.16,465.02 L451.53,466.01 L451.9,466.94 L452.27,467.82 L452.64,468.65 L453.01,469.42 L453.38,470.14 L453.75,470.82 L454.12,471.42 L454.49,471.91 L454.86,472.36 L455.22,472.76 L455.59,473.1 L455.96,473.37 L456.33,473.61 L456.7,473.81 L457.07,474 L457.44,474.16 L457.81,474.31 L458.18,474.45 L458.55,474.58 L458.92,474.71 L459.29,474.82 L459.65,474.92 L460.02,475.01 L460.39,475.1 L460.76,475.18 L461.13,475.26 L461.5,475.33 L461.87,475.4 L462.24,475.46 L462.61,475.52 L462.98,475.56 L463.35,475.61 L463.71,475.65 L464.08,475.69 L464.45,475.72 L464.82,475.75 L465.19,475.78 L465.56,475.8" fill="none" stroke="#4f5052" stroke-width="1.2" stroke-dasharray="1.4 1.4"/>
</g>
<clipPath id="gc2"><path d="M565.9,475.8 L566.28,475.78 L566.65,475.76 L567.03,475.73 L567.4,475.7 L567.78,475.67 L568.16,475.63 L568.53,475.59 L568.91,475.55 L569.28,475.5 L569.66,475.45 L570.04,475.39 L570.41,475.32 L570.79,475.25 L571.16,475.18 L571.54,475.11 L571.92,475.02 L572.29,474.93 L572.67,474.83 L573.04,474.73 L573.42,474.61 L573.79,474.49 L574.17,474.35 L574.55,474.21 L574.92,474.05 L575.3,473.86 L575.67,473.66 L576.05,473.42 L576.43,473.12 L576.8,472.76 L577.18,472.37 L577.55,471.93 L577.93,471.41 L578.31,470.81 L578.68,470.17 L579.06,469.49 L579.43,468.76 L579.81,467.99 L580.19,467.17 L580.56,466.29 L580.94,465.33 L581.31,464.24 L581.69,463.1 L582.07,461.99 L582.44,461.02 L582.82,460.15 L583.19,459.32 L583.57,458.53 L583.95,457.81 L584.32,457.14 L584.7,456.54 L585.07,456 L585.45,455.51 L585.83,455.05 L586.2,454.62 L586.58,454.18 L586.95,453.73 L587.33,453.28 L587.71,452.83 L588.08,452.4 L588.46,451.98 L588.83,451.59 L589.21,451.23 L589.58,450.88 L589.96,450.55 L590.34,450.24 L590.71,449.95 L591.09,449.69 L591.46,449.46 L591.84,449.23 L592.22,449.02 L592.59,448.83 L592.97,448.66 L593.34,448.53 L593.72,448.43 L594.1,448.33 L594.47,448.25 L594.85,448.18 L595.22,448.13 L595.6,448.1 L595.98,448.13 L596.35,448.18 L596.73,448.25 L597.1,448.33 L597.48,448.43 L597.86,448.53 L598.23,448.66 L598.61,448.83 L598.98,449.02 L599.36,449.23 L599.74,449.46 L600.11,449.69 L600.49,449.95 L600.86,450.24 L601.24,450.55 L601.62,450.88 L601.99,451.23 L602.37,451.59 L602.74,451.98 L603.12,452.4 L603.49,452.83 L603.87,453.28 L604.25,453.73 L604.62,454.18 L605,454.62 L605.37,455.05 L605.75,455.51 L606.13,456 L606.5,456.54 L606.88,457.14 L607.25,457.81 L607.63,458.53 L608.01,459.32 L608.38,460.15 L608.76,461.02 L609.13,461.99 L609.51,463.1 L609.89,464.24 L610.26,465.33 L610.64,466.29 L611.01,467.17 L611.39,467.99 L611.77,468.76 L612.14,469.49 L612.52,470.17 L612.89,470.81 L613.27,471.41 L613.65,471.93 L614.02,472.37 L614.4,472.76 L614.77,473.12 L615.15,473.42 L615.53,473.66 L615.9,473.86 L616.28,474.05 L616.65,474.21 L617.03,474.35 L617.41,474.49 L617.78,474.61 L618.16,474.73 L618.53,474.83 L618.91,474.93 L619.28,475.02 L619.66,475.11 L620.04,475.18 L620.41,475.25 L620.79,475.32 L621.16,475.39 L621.54,475.45 L621.92,475.5 L622.29,475.55 L622.67,475.59 L623.04,475.63 L623.42,475.67 L623.8,475.7 L624.17,475.73 L624.55,475.76 L624.92,475.78 L625.3,475.8 Z"/></clipPath>
<g clip-path="url(#above)">
<path d="M565.9,475.8 L566.28,475.78 L566.65,475.76 L567.03,475.73 L567.4,475.7 L567.78,475.67 L568.16,475.63 L568.53,475.59 L568.91,475.55 L569.28,475.5 L569.66,475.45 L570.04,475.39 L570.41,475.32 L570.79,475.25 L571.16,475.18 L571.54,475.11 L571.92,475.02 L572.29,474.93 L572.67,474.83 L573.04,474.73 L573.42,474.61 L573.79,474.49 L574.17,474.35 L574.55,474.21 L574.92,474.05 L575.3,473.86 L575.67,473.66 L576.05,473.42 L576.43,473.12 L576.8,472.76 L577.18,472.37 L577.55,471.93 L577.93,471.41 L578.31,470.81 L578.68,470.17 L579.06,469.49 L579.43,468.76 L579.81,467.99 L580.19,467.17 L580.56,466.29 L580.94,465.33 L581.31,464.24 L581.69,463.1 L582.07,461.99 L582.44,461.02 L582.82,460.15 L583.19,459.32 L583.57,458.53 L583.95,457.81 L584.32,457.14 L584.7,456.54 L585.07,456 L585.45,455.51 L585.83,455.05 L586.2,454.62 L586.58,454.18 L586.95,453.73 L587.33,453.28 L587.71,452.83 L588.08,452.4 L588.46,451.98 L588.83,451.59 L589.21,451.23 L589.58,450.88 L589.96,450.55 L590.34,450.24 L590.71,449.95 L591.09,449.69 L591.46,449.46 L591.84,449.23 L592.22,449.02 L592.59,448.83 L592.97,448.66 L593.34,448.53 L593.72,448.43 L594.1,448.33 L594.47,448.25 L594.85,448.18 L595.22,448.13 L595.6,448.1 L595.98,448.13 L596.35,448.18 L596.73,448.25 L597.1,448.33 L597.48,448.43 L597.86,448.53 L598.23,448.66 L598.61,448.83 L598.98,449.02 L599.36,449.23 L599.74,449.46 L600.11,449.69 L600.49,449.95 L600.86,450.24 L601.24,450.55 L601.62,450.88 L601.99,451.23 L602.37,451.59 L602.74,451.98 L603.12,452.4 L603.49,452.83 L603.87,453.28 L604.25,453.73 L604.62,454.18 L605,454.62 L605.37,455.05 L605.75,455.51 L606.13,456 L606.5,456.54 L606.88,457.14 L607.25,457.81 L607.63,458.53 L608.01,459.32 L608.38,460.15 L608.76,461.02 L609.13,461.99 L609.51,463.1 L609.89,464.24 L610.26,465.33 L610.64,466.29 L611.01,467.17 L611.39,467.99 L611.77,468.76 L612.14,469.49 L612.52,470.17 L612.89,470.81 L613.27,471.41 L613.65,471.93 L614.02,472.37 L614.4,472.76 L614.77,473.12 L615.15,473.42 L615.53,473.66 L615.9,473.86 L616.28,474.05 L616.65,474.21 L617.03,474.35 L617.41,474.49 L617.78,474.61 L618.16,474.73 L618.53,474.83 L618.91,474.93 L619.28,475.02 L619.66,475.11 L620.04,475.18 L620.41,475.25 L620.79,475.32 L621.16,475.39 L621.54,475.45 L621.92,475.5 L622.29,475.55 L622.67,475.59 L623.04,475.63 L623.42,475.67 L623.8,475.7 L624.17,475.73 L624.55,475.76 L624.92,475.78 L625.3,475.8 Z" fill="#939598"/>
<g clip-path="url(#gc2)"><path d="M594.5,262.5 L594.18,271.25 L593.91,280.01 L593.65,288.76 L593.39,297.52 L593.15,306.27 L592.91,315.02 L592.67,323.78 L592.44,332.53 L592.2,341.29 L591.98,350.04 L591.75,358.8 L591.53,367.55 L591.3,376.3 L591.08,385.06 L590.86,393.81 L590.65,402.57 L590.43,411.32 L590.22,420.08 L590,428.83 L589.79,437.58 L589.58,446.34 L589.37,455.09 L589.16,463.85 L588.95,472.6 L602.25,472.6 L602.04,463.85 L601.83,455.09 L601.62,446.34 L601.41,437.58 L601.2,428.83 L600.98,420.08 L600.77,411.32 L600.55,402.57 L600.34,393.81 L600.12,385.06 L599.9,376.3 L599.67,367.55 L599.45,358.8 L599.22,350.04 L599,341.29 L598.76,332.53 L598.53,323.78 L598.29,315.02 L598.05,306.27 L597.81,297.52 L597.55,288.76 L597.29,280.01 L597.02,271.25 L596.7,262.5 Z" fill="#808285"/></g>
<path d="M565.9,475.8 L566.28,475.78 L566.65,475.76 L567.03,475.73 L567.4,475.7 L567.78,475.67 L568.16,475.63 L568.53,475.59 L568.91,475.55 L569.28,475.5 L569.66,475.45 L570.04,475.39 L570.41,475.32 L570.79,475.25 L571.16,475.18 L571.54,475.11 L571.92,475.02 L572.29,474.93 L572.67,474.83 L573.04,474.73 L573.42,474.61 L573.79,474.49 L574.17,474.35 L574.55,474.21 L574.92,474.05 L575.3,473.86 L575.67,473.66 L576.05,473.42 L576.43,473.12 L576.8,472.76 L577.18,472.37 L577.55,471.93 L577.93,471.41 L578.31,470.81 L578.68,470.17 L579.06,469.49 L579.43,468.76 L579.81,467.99 L580.19,467.17 L580.56,466.29 L580.94,465.33 L581.31,464.24 L581.69,463.1 L582.07,461.99 L582.44,461.02 L582.82,460.15 L583.19,459.32 L583.57,458.53 L583.95,457.81 L584.32,457.14 L584.7,456.54 L585.07,456 L585.45,455.51 L585.83,455.05 L586.2,454.62 L586.58,454.18 L586.95,453.73 L587.33,453.28 L587.71,452.83 L588.08,452.4 L588.46,451.98 L588.83,451.59 L589.21,451.23 L589.58,450.88 L589.96,450.55 L590.34,450.24 L590.71,449.95 L591.09,449.69 L591.46,449.46 L591.84,449.23 L592.22,449.02 L592.59,448.83 L592.97,448.66 L593.34,448.53 L593.72,448.43 L594.1,448.33 L594.47,448.25 L594.85,448.18 L595.22,448.13 L595.6,448.1 L595.98,448.13 L596.35,448.18 L596.73,448.25 L597.1,448.33 L597.48,448.43 L597.86,448.53 L598.23,448.66 L598.61,448.83 L598.98,449.02 L599.36,449.23 L599.74,449.46 L600.11,449.69 L600.49,449.95 L600.86,450.24 L601.24,450.55 L601.62,450.88 L601.99,451.23 L602.37,451.59 L602.74,451.98 L603.12,452.4 L603.49,452.83 L603.87,453.28 L604.25,453.73 L604.62,454.18 L605,454.62 L605.37,455.05 L605.75,455.51 L606.13,456 L606.5,456.54 L606.88,457.14 L607.25,457.81 L607.63,458.53 L608.01,459.32 L608.38,460.15 L608.76,461.02 L609.13,461.99 L609.51,463.1 L609.89,464.24 L610.26,465.33 L610.64,466.29 L611.01,467.17 L611.39,467.99 L611.77,468.76 L612.14,469.49 L612.52,470.17 L612.89,470.81 L613.27,471.41 L613.65,471.93 L614.02,472.37 L614.4,472.76 L614.77,473.12 L615.15,473.42 L615.53,473.66 L615.9,473.86 L616.28,474.05 L616.65,474.21 L617.03,474.35 L617.41,474.49 L617.78,474.61 L618.16,474.73 L618.53,474.83 L618.91,474.93 L619.28,475.02 L619.66,475.11 L620.04,475.18 L620.41,475.25 L620.79,475.32 L621.16,475.39 L621.54,475.45 L621.92,475.5 L622.29,475.55 L622.67,475.59 L623.04,475.63 L623.42,475.67 L623.8,475.7 L624.17,475.73 L624.55,475.76 L624.92,475.78 L625.3,475.8" fill="none" stroke="#4f5052" stroke-width="1.2" stroke-dasharray="1.4 1.4"/>
</g>
<clipPath id="gc3"><path d="M749.34,475.8 L749.71,475.78 L750.08,475.76 L750.45,475.73 L750.82,475.7 L751.19,475.66 L751.55,475.62 L751.92,475.58 L752.29,475.54 L752.66,475.49 L753.03,475.43 L753.4,475.37 L753.77,475.3 L754.14,475.23 L754.51,475.15 L754.88,475.07 L755.25,474.99 L755.61,474.89 L755.98,474.79 L756.35,474.68 L756.72,474.56 L757.09,474.43 L757.46,474.29 L757.83,474.13 L758.2,473.96 L758.57,473.77 L758.94,473.56 L759.31,473.31 L759.68,472.99 L760.04,472.62 L760.41,472.21 L760.78,471.75 L761.15,471.2 L761.52,470.57 L761.89,469.91 L762.26,469.2 L762.63,468.43 L763,467.62 L763.37,466.76 L763.74,465.84 L764.1,464.84 L764.47,463.7 L764.84,462.5 L765.21,461.34 L765.58,460.33 L765.95,459.41 L766.32,458.54 L766.69,457.72 L767.06,456.96 L767.43,456.26 L767.8,455.63 L768.16,455.07 L768.53,454.56 L768.9,454.08 L769.27,453.62 L769.64,453.17 L770.01,452.7 L770.38,452.22 L770.75,451.75 L771.12,451.3 L771.49,450.86 L771.86,450.45 L772.23,450.07 L772.59,449.71 L772.96,449.37 L773.33,449.04 L773.7,448.74 L774.07,448.47 L774.44,448.22 L774.81,447.99 L775.18,447.76 L775.55,447.56 L775.92,447.39 L776.29,447.25 L776.65,447.14 L777.02,447.04 L777.39,446.95 L777.76,446.88 L778.13,446.83 L778.5,446.8 L778.87,446.83 L779.24,446.88 L779.61,446.95 L779.98,447.04 L780.35,447.14 L780.71,447.25 L781.08,447.39 L781.45,447.56 L781.82,447.76 L782.19,447.99 L782.56,448.22 L782.93,448.47 L783.3,448.74 L783.67,449.04 L784.04,449.37 L784.41,449.71 L784.77,450.07 L785.14,450.45 L785.51,450.86 L785.88,451.3 L786.25,451.75 L786.62,452.22 L786.99,452.7 L787.36,453.17 L787.73,453.62 L788.1,454.08 L788.47,454.56 L788.84,455.07 L789.2,455.63 L789.57,456.26 L789.94,456.96 L790.31,457.72 L790.68,458.54 L791.05,459.41 L791.42,460.33 L791.79,461.34 L792.16,462.5 L792.53,463.7 L792.9,464.84 L793.26,465.84 L793.63,466.76 L794,467.62 L794.37,468.43 L794.74,469.2 L795.11,469.91 L795.48,470.57 L795.85,471.2 L796.22,471.75 L796.59,472.21 L796.96,472.62 L797.32,472.99 L797.69,473.31 L798.06,473.56 L798.43,473.77 L798.8,473.96 L799.17,474.13 L799.54,474.29 L799.91,474.43 L800.28,474.56 L800.65,474.68 L801.02,474.79 L801.39,474.89 L801.75,474.99 L802.12,475.07 L802.49,475.15 L802.86,475.23 L803.23,475.3 L803.6,475.37 L803.97,475.43 L804.34,475.49 L804.71,475.54 L805.08,475.58 L805.45,475.62 L805.81,475.66 L806.18,475.7 L806.55,475.73 L806.92,475.76 L807.29,475.78 L807.66,475.8 Z"/></clipPath>
<g clip-path="url(#above)">
<path d="M749.34,475.8 L749.71,475.78 L750.08,475.76 L750.45,475.73 L750.82,475.7 L751.19,475.66 L751.55,475.62 L751.92,475.58 L752.29,475.54 L752.66,475.49 L753.03,475.43 L753.4,475.37 L753.77,475.3 L754.14,475.23 L754.51,475.15 L754.88,475.07 L755.25,474.99 L755.61,474.89 L755.98,474.79 L756.35,474.68 L756.72,474.56 L757.09,474.43 L757.46,474.29 L757.83,474.13 L758.2,473.96 L758.57,473.77 L758.94,473.56 L759.31,473.31 L759.68,472.99 L760.04,472.62 L760.41,472.21 L760.78,471.75 L761.15,471.2 L761.52,470.57 L761.89,469.91 L762.26,469.2 L762.63,468.43 L763,467.62 L763.37,466.76 L763.74,465.84 L764.1,464.84 L764.47,463.7 L764.84,462.5 L765.21,461.34 L765.58,460.33 L765.95,459.41 L766.32,458.54 L766.69,457.72 L767.06,456.96 L767.43,456.26 L767.8,455.63 L768.16,455.07 L768.53,454.56 L768.9,454.08 L769.27,453.62 L769.64,453.17 L770.01,452.7 L770.38,452.22 L770.75,451.75 L771.12,451.3 L771.49,450.86 L771.86,450.45 L772.23,450.07 L772.59,449.71 L772.96,449.37 L773.33,449.04 L773.7,448.74 L774.07,448.47 L774.44,448.22 L774.81,447.99 L775.18,447.76 L775.55,447.56 L775.92,447.39 L776.29,447.25 L776.65,447.14 L777.02,447.04 L777.39,446.95 L777.76,446.88 L778.13,446.83 L778.5,446.8 L778.87,446.83 L779.24,446.88 L779.61,446.95 L779.98,447.04 L780.35,447.14 L780.71,447.25 L781.08,447.39 L781.45,447.56 L781.82,447.76 L782.19,447.99 L782.56,448.22 L782.93,448.47 L783.3,448.74 L783.67,449.04 L784.04,449.37 L784.41,449.71 L784.77,450.07 L785.14,450.45 L785.51,450.86 L785.88,451.3 L786.25,451.75 L786.62,452.22 L786.99,452.7 L787.36,453.17 L787.73,453.62 L788.1,454.08 L788.47,454.56 L788.84,455.07 L789.2,455.63 L789.57,456.26 L789.94,456.96 L790.31,457.72 L790.68,458.54 L791.05,459.41 L791.42,460.33 L791.79,461.34 L792.16,462.5 L792.53,463.7 L792.9,464.84 L793.26,465.84 L793.63,466.76 L794,467.62 L794.37,468.43 L794.74,469.2 L795.11,469.91 L795.48,470.57 L795.85,471.2 L796.22,471.75 L796.59,472.21 L796.96,472.62 L797.32,472.99 L797.69,473.31 L798.06,473.56 L798.43,473.77 L798.8,473.96 L799.17,474.13 L799.54,474.29 L799.91,474.43 L800.28,474.56 L800.65,474.68 L801.02,474.79 L801.39,474.89 L801.75,474.99 L802.12,475.07 L802.49,475.15 L802.86,475.23 L803.23,475.3 L803.6,475.37 L803.97,475.43 L804.34,475.49 L804.71,475.54 L805.08,475.58 L805.45,475.62 L805.81,475.66 L806.18,475.7 L806.55,475.73 L806.92,475.76 L807.29,475.78 L807.66,475.8 Z" fill="#939598"/>
<g clip-path="url(#gc3)"><path d="M777,209.5 L776.64,220.46 L776.33,231.43 L776.03,242.39 L775.74,253.35 L775.46,264.31 L775.19,275.27 L774.92,286.24 L774.66,297.2 L774.39,308.16 L774.13,319.12 L773.88,330.09 L773.62,341.05 L773.37,352.01 L773.12,362.98 L772.87,373.94 L772.63,384.9 L772.38,395.86 L772.14,406.83 L771.89,417.79 L771.65,428.75 L771.41,439.71 L771.17,450.68 L770.94,461.64 L770.7,472.6 L786.3,472.6 L786.06,461.64 L785.83,450.68 L785.59,439.71 L785.35,428.75 L785.11,417.79 L784.86,406.83 L784.62,395.86 L784.37,384.9 L784.13,373.94 L783.88,362.98 L783.63,352.01 L783.38,341.05 L783.12,330.09 L782.87,319.12 L782.61,308.16 L782.34,297.2 L782.08,286.24 L781.81,275.27 L781.54,264.31 L781.26,253.35 L780.97,242.39 L780.67,231.43 L780.36,220.46 L780,209.5 Z" fill="#808285"/></g>
<g clip-path="url(#gc3)"><path d="M145.2,466.5 C147,469.6 149,471.4 151.4,471.4 C156.5,471.4 160.5,464.5 165.5,455 C187.4,415.7 207.1,372.7 222.2,330.3 C229,312.7 243,273 255.2,258.4 C261.5,248.5 279,240.5 311,237.7 L432,217.6 H698.3 C716,217.6 727,246 735.8,277.1 C740,292 751,358 756.7,393.5 C760,420 765.5,449 772.2,466.6 C774,470.5 776,472 778.3,472 C780.6,472 782.6,470.5 784.4,466.6 C790,454 797,425 804,407 C806.5,403 810,400.5 816.2,400" fill="none" stroke="#4d4e50" stroke-width="1.1"/></g>
<path d="M749.34,475.8 L749.71,475.78 L750.08,475.76 L750.45,475.73 L750.82,475.7 L751.19,475.66 L751.55,475.62 L751.92,475.58 L752.29,475.54 L752.66,475.49 L753.03,475.43 L753.4,475.37 L753.77,475.3 L754.14,475.23 L754.51,475.15 L754.88,475.07 L755.25,474.99 L755.61,474.89 L755.98,474.79 L756.35,474.68 L756.72,474.56 L757.09,474.43 L757.46,474.29 L757.83,474.13 L758.2,473.96 L758.57,473.77 L758.94,473.56 L759.31,473.31 L759.68,472.99 L760.04,472.62 L760.41,472.21 L760.78,471.75 L761.15,471.2 L761.52,470.57 L761.89,469.91 L762.26,469.2 L762.63,468.43 L763,467.62 L763.37,466.76 L763.74,465.84 L764.1,464.84 L764.47,463.7 L764.84,462.5 L765.21,461.34 L765.58,460.33 L765.95,459.41 L766.32,458.54 L766.69,457.72 L767.06,456.96 L767.43,456.26 L767.8,455.63 L768.16,455.07 L768.53,454.56 L768.9,454.08 L769.27,453.62 L769.64,453.17 L770.01,452.7 L770.38,452.22 L770.75,451.75 L771.12,451.3 L771.49,450.86 L771.86,450.45 L772.23,450.07 L772.59,449.71 L772.96,449.37 L773.33,449.04 L773.7,448.74 L774.07,448.47 L774.44,448.22 L774.81,447.99 L775.18,447.76 L775.55,447.56 L775.92,447.39 L776.29,447.25 L776.65,447.14 L777.02,447.04 L777.39,446.95 L777.76,446.88 L778.13,446.83 L778.5,446.8 L778.87,446.83 L779.24,446.88 L779.61,446.95 L779.98,447.04 L780.35,447.14 L780.71,447.25 L781.08,447.39 L781.45,447.56 L781.82,447.76 L782.19,447.99 L782.56,448.22 L782.93,448.47 L783.3,448.74 L783.67,449.04 L784.04,449.37 L784.41,449.71 L784.77,450.07 L785.14,450.45 L785.51,450.86 L785.88,451.3 L786.25,451.75 L786.62,452.22 L786.99,452.7 L787.36,453.17 L787.73,453.62 L788.1,454.08 L788.47,454.56 L788.84,455.07 L789.2,455.63 L789.57,456.26 L789.94,456.96 L790.31,457.72 L790.68,458.54 L791.05,459.41 L791.42,460.33 L791.79,461.34 L792.16,462.5 L792.53,463.7 L792.9,464.84 L793.26,465.84 L793.63,466.76 L794,467.62 L794.37,468.43 L794.74,469.2 L795.11,469.91 L795.48,470.57 L795.85,471.2 L796.22,471.75 L796.59,472.21 L796.96,472.62 L797.32,472.99 L797.69,473.31 L798.06,473.56 L798.43,473.77 L798.8,473.96 L799.17,474.13 L799.54,474.29 L799.91,474.43 L800.28,474.56 L800.65,474.68 L801.02,474.79 L801.39,474.89 L801.75,474.99 L802.12,475.07 L802.49,475.15 L802.86,475.23 L803.23,475.3 L803.6,475.37 L803.97,475.43 L804.34,475.49 L804.71,475.54 L805.08,475.58 L805.45,475.62 L805.81,475.66 L806.18,475.7 L806.55,475.73 L806.92,475.76 L807.29,475.78 L807.66,475.8" fill="none" stroke="#4f5052" stroke-width="1.2" stroke-dasharray="1.4 1.4"/>
</g>
</g>
<g clip-path="url(#above)">
<path d="M119.6,475.1 L120.01,475.08 L120.42,475.05 L120.83,475.01 L121.24,474.97 L121.65,474.92 L122.06,474.87 L122.47,474.82 L122.88,474.77 L123.29,474.7 L123.7,474.63 L124.11,474.55 L124.52,474.47 L124.93,474.38 L125.34,474.28 L125.75,474.18 L126.16,474.07 L126.57,473.95 L126.98,473.82 L127.39,473.68 L127.8,473.53 L128.21,473.36 L128.62,473.19 L129.03,472.99 L129.44,472.78 L129.85,472.54 L130.26,472.26 L130.67,471.94 L131.08,471.55 L131.49,471.08 L131.9,470.55 L132.31,469.98 L132.72,469.28 L133.13,468.48 L133.54,467.64 L133.95,466.74 L134.36,465.77 L134.77,464.75 L135.18,463.66 L135.59,462.5 L136.01,461.23 L136.42,459.79 L136.83,458.27 L137.24,456.8 L137.65,455.52 L138.06,454.36 L138.47,453.26 L138.88,452.22 L139.29,451.26 L139.7,450.37 L140.11,449.58 L140.52,448.87 L140.93,448.22 L141.34,447.61 L141.75,447.03 L142.16,446.46 L142.57,445.86 L142.98,445.27 L143.39,444.67 L143.8,444.09 L144.21,443.54 L144.62,443.02 L145.03,442.54 L145.44,442.09 L145.85,441.65 L146.26,441.24 L146.67,440.86 L147.08,440.51 L147.49,440.2 L147.9,439.9 L148.31,439.62 L148.72,439.36 L149.13,439.14 L149.54,438.97 L149.95,438.84 L150.36,438.71 L150.77,438.59 L151.18,438.5 L151.59,438.43 L152,438.4 L152.41,438.43 L152.82,438.5 L153.23,438.59 L153.64,438.71 L154.05,438.84 L154.46,438.97 L154.87,439.14 L155.28,439.36 L155.69,439.62 L156.1,439.9 L156.51,440.2 L156.92,440.51 L157.33,440.86 L157.74,441.24 L158.15,441.65 L158.56,442.09 L158.97,442.54 L159.38,443.02 L159.79,443.54 L160.2,444.09 L160.61,444.67 L161.02,445.27 L161.43,445.86 L161.84,446.46 L162.25,447.03 L162.66,447.61 L163.07,448.22 L163.48,448.87 L163.89,449.58 L164.3,450.37 L164.71,451.26 L165.12,452.22 L165.53,453.26 L165.94,454.36 L166.35,455.52 L166.76,456.8 L167.17,458.27 L167.58,459.79 L167.99,461.23 L168.41,462.5 L168.82,463.66 L169.23,464.75 L169.64,465.77 L170.05,466.74 L170.46,467.64 L170.87,468.48 L171.28,469.28 L171.69,469.98 L172.1,470.55 L172.51,471.08 L172.92,471.55 L173.33,471.94 L173.74,472.26 L174.15,472.54 L174.56,472.78 L174.97,472.99 L175.38,473.19 L175.79,473.36 L176.2,473.53 L176.61,473.68 L177.02,473.82 L177.43,473.95 L177.84,474.07 L178.25,474.18 L178.66,474.28 L179.07,474.38 L179.48,474.47 L179.89,474.55 L180.3,474.63 L180.71,474.7 L181.12,474.77 L181.53,474.82 L181.94,474.87 L182.35,474.92 L182.76,474.97 L183.17,475.01 L183.58,475.05 L183.99,475.08 L184.4,475.1 Z" fill="#939598"/>
<path d="M119.6,475.1 L120.01,475.08 L120.42,475.05 L120.83,475.01 L121.24,474.97 L121.65,474.92 L122.06,474.87 L122.47,474.82 L122.88,474.77 L123.29,474.7 L123.7,474.63 L124.11,474.55 L124.52,474.47 L124.93,474.38 L125.34,474.28 L125.75,474.18 L126.16,474.07 L126.57,473.95 L126.98,473.82 L127.39,473.68 L127.8,473.53 L128.21,473.36 L128.62,473.19 L129.03,472.99 L129.44,472.78 L129.85,472.54 L130.26,472.26 L130.67,471.94 L131.08,471.55 L131.49,471.08 L131.9,470.55 L132.31,469.98 L132.72,469.28 L133.13,468.48 L133.54,467.64 L133.95,466.74 L134.36,465.77 L134.77,464.75 L135.18,463.66 L135.59,462.5 L136.01,461.23 L136.42,459.79 L136.83,458.27 L137.24,456.8 L137.65,455.52 L138.06,454.36 L138.47,453.26 L138.88,452.22 L139.29,451.26 L139.7,450.37 L140.11,449.58 L140.52,448.87 L140.93,448.22 L141.34,447.61 L141.75,447.03 L142.16,446.46 L142.57,445.86 L142.98,445.27 L143.39,444.67 L143.8,444.09 L144.21,443.54 L144.62,443.02 L145.03,442.54 L145.44,442.09 L145.85,441.65 L146.26,441.24 L146.67,440.86 L147.08,440.51 L147.49,440.2 L147.9,439.9 L148.31,439.62 L148.72,439.36 L149.13,439.14 L149.54,438.97 L149.95,438.84 L150.36,438.71 L150.77,438.59 L151.18,438.5 L151.59,438.43 L152,438.4 L152.41,438.43 L152.82,438.5 L153.23,438.59 L153.64,438.71 L154.05,438.84 L154.46,438.97 L154.87,439.14 L155.28,439.36 L155.69,439.62 L156.1,439.9 L156.51,440.2 L156.92,440.51 L157.33,440.86 L157.74,441.24 L158.15,441.65 L158.56,442.09 L158.97,442.54 L159.38,443.02 L159.79,443.54 L160.2,444.09 L160.61,444.67 L161.02,445.27 L161.43,445.86 L161.84,446.46 L162.25,447.03 L162.66,447.61 L163.07,448.22 L163.48,448.87 L163.89,449.58 L164.3,450.37 L164.71,451.26 L165.12,452.22 L165.53,453.26 L165.94,454.36 L166.35,455.52 L166.76,456.8 L167.17,458.27 L167.58,459.79 L167.99,461.23 L168.41,462.5 L168.82,463.66 L169.23,464.75 L169.64,465.77 L170.05,466.74 L170.46,467.64 L170.87,468.48 L171.28,469.28 L171.69,469.98 L172.1,470.55 L172.51,471.08 L172.92,471.55 L173.33,471.94 L173.74,472.26 L174.15,472.54 L174.56,472.78 L174.97,472.99 L175.38,473.19 L175.79,473.36 L176.2,473.53 L176.61,473.68 L177.02,473.82 L177.43,473.95 L177.84,474.07 L178.25,474.18 L178.66,474.28 L179.07,474.38 L179.48,474.47 L179.89,474.55 L180.3,474.63 L180.71,474.7 L181.12,474.77 L181.53,474.82 L181.94,474.87 L182.35,474.92 L182.76,474.97 L183.17,475.01 L183.58,475.05 L183.99,475.08 L184.4,475.1" fill="none" stroke="#4f5052" stroke-width="1.2" stroke-dasharray="1.4 1.4"/>
</g>
<clipPath id="notb5"><path clip-rule="evenodd" d="M0,0 H959 V739 H0 Z M724.5,472.6 L725.2,472.52 L725.91,472.41 L726.62,472.28 L727.34,472.14 L728.06,471.98 L728.79,471.8 L729.51,471.62 L730.24,471.42 L730.98,471.2 L731.72,470.95 L732.47,470.67 L733.22,470.37 L733.98,470.05 L734.74,469.71 L735.5,469.35 L736.28,468.96 L737.06,468.54 L737.85,468.08 L738.65,467.58 L739.46,467.03 L740.28,466.45 L741.04,465.83 L741.74,465.14 L742.43,464.38 L743.12,463.53 L743.82,462.57 L744.52,461.44 L745.22,460.03 L745.93,458.38 L746.64,456.52 L747.35,454.48 L748.07,452.02 L748.65,449.2 L749.22,446.23 L749.77,443.04 L750.32,439.61 L750.86,435.99 L751.39,432.15 L751.91,428.04 L752.41,423.56 L752.89,418.45 L753.35,413.08 L753.82,407.89 L754.31,403.34 L754.82,399.25 L755.35,395.36 L755.88,391.69 L756.42,388.28 L756.97,385.15 L757.51,382.34 L758.07,379.82 L758.64,377.53 L759.21,375.39 L759.79,373.33 L760.37,371.29 L760.95,369.2 L761.53,367.08 L762.11,364.98 L762.69,362.93 L763.27,360.97 L763.86,359.14 L764.46,357.45 L765.07,355.83 L765.77,354.29 L766.48,352.83 L767.18,351.49 L767.88,350.27 L768.61,349.17 L769.58,348.1 L770.53,347.1 L771.45,346.2 L772.34,345.43 L773.18,344.82 L774.13,344.34 L775.09,343.89 L776.03,343.49 L776.91,343.16 L777.74,342.92 L778.5,342.8 L779.26,342.92 L780.09,343.16 L780.97,343.49 L781.91,343.89 L782.87,344.34 L783.82,344.82 L784.66,345.43 L785.55,346.2 L786.47,347.1 L787.42,348.1 L788.39,349.17 L789.12,350.27 L789.82,351.49 L790.52,352.83 L791.23,354.29 L791.93,355.83 L792.54,357.45 L793.14,359.14 L793.73,360.97 L794.31,362.93 L794.89,364.98 L795.47,367.08 L796.05,369.2 L796.63,371.29 L797.21,373.33 L797.79,375.39 L798.36,377.53 L798.93,379.82 L799.49,382.34 L800.03,385.15 L800.58,388.28 L801.12,391.69 L801.65,395.36 L802.18,399.25 L802.69,403.34 L803.18,407.89 L803.65,413.08 L804.11,418.45 L804.59,423.56 L805.09,428.04 L805.61,432.15 L806.14,435.99 L806.68,439.61 L807.23,443.04 L807.78,446.23 L808.35,449.2 L808.93,452.02 L809.65,454.48 L810.36,456.52 L811.07,458.38 L811.78,460.03 L812.48,461.44 L813.18,462.57 L813.88,463.53 L814.57,464.38 L815.26,465.14 L815.96,465.83 L816.72,466.45 L817.54,467.03 L818.35,467.58 L819.15,468.08 L819.94,468.54 L820.72,468.96 L821.5,469.35 L822.26,469.71 L823.02,470.05 L823.78,470.37 L824.53,470.67 L825.28,470.95 L826.02,471.2 L826.76,471.42 L827.49,471.62 L828.21,471.8 L828.94,471.98 L829.66,472.14 L830.38,472.28 L831.09,472.41 L831.8,472.52 L832.5,472.6 Z"/></clipPath>
<g clip-path="url(#notb5)"><path d="M145.2,466.5 C147,469.6 149,471.4 151.4,471.4 C156.5,471.4 160.5,464.5 165.5,455 C187.4,415.7 207.1,372.7 222.2,330.3 C229,312.7 243,273 255.2,258.4 C261.5,248.5 279,240.5 311,237.7 L432,217.6 H698.3 C716,217.6 727,246 735.8,277.1 C740,292 751,358 756.7,393.5 C760,420 765.5,449 772.2,466.6 C774,470.5 776,472 778.3,472 C780.6,472 782.6,470.5 784.4,466.6 C790,454 797,425 804,407 C806.5,403 810,400.5 816.2,400" fill="none" stroke="#231f20" stroke-width="1.6"/></g>
<path d="M222.5,330 L221.72,345.89 L217.56,343.57 L212.88,342.68 Z" fill="#231f20"/>
<path d="M311.2,237.6 L296.25,244.48 L296.35,239.82 L294.89,235.39 Z" fill="#231f20"/>
<path d="M432,217.6 L417.14,224.67 L417.18,220 L415.67,215.59 Z" fill="#231f20"/>
<path d="M673,217.6 L657.2,222.2 L657.99,217.6 L657.2,213 Z" fill="#231f20"/>
<path d="M735.9,277.3 L727.19,263.98 L731.92,263.42 L736.23,261.39 Z" fill="#231f20"/>
<path d="M756.7,393.5 L749.56,379.28 L754.32,379.26 L758.83,377.73 Z" fill="#231f20"/>
<path d="M152,449 L155.8,445 L154.2,445 L154.2,441 L149.8,441 L149.8,445 L148.2,445 Z" fill="#fff"/>
<path d="M276.5,386 L280.3,389.9 L278.7,389.9 L278.7,393.8 L274.3,393.8 L274.3,389.9 L272.7,389.9 Z" fill="#fff"/>
<path d="M276.5,453 L280.3,449.1 L278.7,449.1 L278.7,445.2 L274.3,445.2 L274.3,449.1 L272.7,449.1 Z" fill="#fff"/>
<path d="M436.4,365.8 L440.2,369.7 L438.6,369.7 L438.6,373.6 L434.2,373.6 L434.2,369.7 L432.6,369.7 Z" fill="#fff"/>
<path d="M436.4,455.1 L440.2,451.2 L438.6,451.2 L438.6,447.3 L434.2,447.3 L434.2,451.2 L432.6,451.2 Z" fill="#fff"/>
<path d="M595.6,354.4 L599.4,358.3 L597.8,358.3 L597.8,362.2 L593.4,362.2 L593.4,358.3 L591.8,358.3 Z" fill="#fff"/>
<path d="M595.6,458.8 L599.4,454.9 L597.8,454.9 L597.8,451 L593.4,451 L593.4,454.9 L591.8,454.9 Z" fill="#fff"/>
<path d="M778.5,345.4 L782.3,349.3 L780.7,349.3 L780.7,353.2 L776.3,353.2 L776.3,349.3 L774.7,349.3 Z" fill="#fff"/>
<path d="M778.5,457.5 L782.3,453.6 L780.7,453.6 L780.7,449.7 L776.3,449.7 L776.3,453.6 L774.7,453.6 Z" fill="#fff"/>
<g font-family="'Liberation Sans', Arial, sans-serif" fill="#fff" text-anchor="middle">
<text x="152" y="468.8" font-size="9.1" textLength="19.4" lengthAdjust="spacingAndGlyphs">Dkk1</text>
<text x="276.5" y="412.5" font-size="9.4" opacity="0.92" textLength="19.2" lengthAdjust="spacingAndGlyphs">Wnt</text>
<text x="276.5" y="423.3" font-size="9.4" opacity="0.92" textLength="28.6" lengthAdjust="spacingAndGlyphs">Signal</text>
<text x="276.5" y="468.8" font-size="9.1" textLength="19.4" lengthAdjust="spacingAndGlyphs">Dkk1</text>
<text x="436.4" y="404.9" font-size="9.4" opacity="0.92" textLength="19.2" lengthAdjust="spacingAndGlyphs">Wnt</text>
<text x="436.4" y="416.5" font-size="9.4" opacity="0.92" textLength="28.6" lengthAdjust="spacingAndGlyphs">Signal</text>
<text x="436.4" y="468.8" font-size="9.1" textLength="19.4" lengthAdjust="spacingAndGlyphs">Dkk1</text>
<text x="595.6" y="404.5" font-size="9.4" opacity="0.92" textLength="19.2" lengthAdjust="spacingAndGlyphs">Wnt</text>
<text x="595.6" y="416.8" font-size="9.4" opacity="0.92" textLength="28.6" lengthAdjust="spacingAndGlyphs">Signal</text>
<text x="595.6" y="468.8" font-size="9.1" textLength="19.4" lengthAdjust="spacingAndGlyphs">Dkk1</text>
<text x="778.5" y="404.5" font-size="9.4" opacity="0.92" textLength="19.2" lengthAdjust="spacingAndGlyphs">Wnt</text>
<text x="778.5" y="416.4" font-size="9.4" opacity="0.92" textLength="28.6" lengthAdjust="spacingAndGlyphs">Signal</text>
<text x="778.5" y="468.8" font-size="9.1" textLength="19.4" lengthAdjust="spacingAndGlyphs">Dkk1</text>
</g>
<path d="M114.5,222 V673.8 H828" fill="none" stroke="#231f20" stroke-width="1.6"/>
<path d="M114.5,211 L118.7,225.5 L114.5,224.34 L110.3,225.5 Z" fill="#231f20"/>
<path d="M840,673.8 L825,677.9 L826.2,673.8 L825,669.7 Z" fill="#231f20"/>
<g font-family="'Liberation Sans', Arial, sans-serif" font-size="10.4" fill="#2f2d2e">
<text x="125.4" y="232.8" text-anchor="start" textLength="15.3" lengthAdjust="spacingAndGlyphs">PG</text>
<text x="125.4" y="246.8" text-anchor="start" textLength="78" lengthAdjust="spacingAndGlyphs">Concentration</text>
<text x="125.4" y="335.8" text-anchor="start" textLength="49.5" lengthAdjust="spacingAndGlyphs">Follicular</text>
<text x="125.4" y="348.8" text-anchor="start" textLength="33.4" lengthAdjust="spacingAndGlyphs">Hypo-</text>
<text x="125.4" y="361.7" text-anchor="start" textLength="45.9" lengthAdjust="spacingAndGlyphs">Glycania</text>
<text x="152" y="569.7" text-anchor="middle" textLength="41.4" lengthAdjust="spacingAndGlyphs">Telogen</text>
<text x="277" y="600" text-anchor="middle" textLength="41.6" lengthAdjust="spacingAndGlyphs">Anagen</text>
<text x="437" y="622.4" text-anchor="middle" textLength="41.6" lengthAdjust="spacingAndGlyphs">Anagen</text>
<text x="595.7" y="655.6" text-anchor="middle" textLength="41.6" lengthAdjust="spacingAndGlyphs">Anagen</text>
<text x="115.3" y="692.6" text-anchor="middle" textLength="7.2" lengthAdjust="spacingAndGlyphs">0</text>
<text x="276.5" y="692.6" text-anchor="middle" textLength="50" lengthAdjust="spacingAndGlyphs">3 Months</text>
<text x="440.2" y="692.6" text-anchor="middle" textLength="50.7" lengthAdjust="spacingAndGlyphs">6 Months</text>
<text x="599.4" y="692.6" text-anchor="middle" textLength="53.8" lengthAdjust="spacingAndGlyphs">12 Months</text>
<text x="827" y="692.6" text-anchor="middle" textLength="39" lengthAdjust="spacingAndGlyphs">2 Years</text>
</g>
</svg>
</body>
</html>
